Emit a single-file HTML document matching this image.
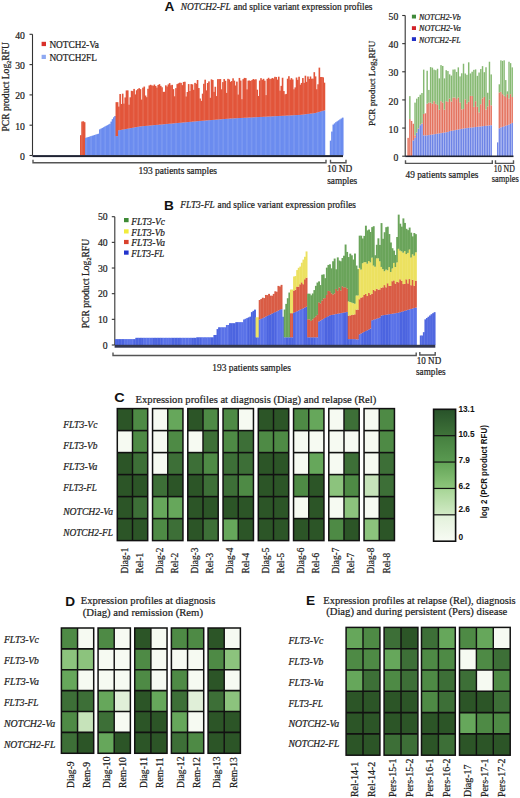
<!DOCTYPE html>
<html><head><meta charset="utf-8"><style>
html,body{margin:0;padding:0;background:#fff;}
body{width:520px;height:798px;overflow:hidden;}
svg{display:block;}
</style></head><body>
<svg width="520" height="798" viewBox="0 0 520 798">
<rect x="0" y="0" width="520" height="798" fill="#fff"/>
<text transform="translate(164.60,10.70) scale(1.1,1)" text-anchor="start" style="font-family:'Liberation Sans', sans-serif;font-size:12.4px;font-weight:bold;" fill="#111">A</text>
<text x="180.80" y="10.20" text-anchor="start" style="font-family:'Liberation Serif', serif;font-size:10.2px;font-style:italic;" fill="#222" textLength="50.00" lengthAdjust="spacingAndGlyphs" stroke="#222" stroke-width="0.22">NOTCH2-FL</text>
<text x="233.50" y="10.20" text-anchor="start" style="font-family:'Liberation Serif', serif;font-size:10.2px;" fill="#222" textLength="139.00" lengthAdjust="spacingAndGlyphs" stroke="#222" stroke-width="0.22">and splice variant expression profiles</text>
<rect x="80.00" y="135.20" width="1.62" height="20.30" fill="#e2553a"/>
<rect x="81.27" y="121.56" width="1.62" height="33.94" fill="#e2553a"/>
<rect x="82.54" y="121.26" width="1.62" height="34.24" fill="#e2553a"/>
<rect x="83.81" y="122.17" width="1.62" height="33.33" fill="#e2553a"/>
<rect x="85.08" y="137.84" width="1.62" height="17.66" fill="#6b8cef"/>
<rect x="86.34" y="137.42" width="1.62" height="18.08" fill="#6b8cef"/>
<rect x="87.61" y="137.01" width="1.62" height="18.49" fill="#6b8cef"/>
<rect x="88.88" y="136.60" width="1.62" height="18.90" fill="#6b8cef"/>
<rect x="90.15" y="136.19" width="1.62" height="19.31" fill="#6b8cef"/>
<rect x="91.42" y="135.78" width="1.62" height="19.72" fill="#6b8cef"/>
<rect x="92.69" y="135.36" width="1.62" height="20.14" fill="#6b8cef"/>
<rect x="93.96" y="134.95" width="1.62" height="20.55" fill="#6b8cef"/>
<rect x="95.23" y="134.54" width="1.62" height="20.96" fill="#6b8cef"/>
<rect x="96.50" y="134.13" width="1.62" height="21.37" fill="#6b8cef"/>
<rect x="97.76" y="133.72" width="1.62" height="21.78" fill="#6b8cef"/>
<rect x="99.03" y="129.35" width="1.62" height="26.15" fill="#6b8cef"/>
<rect x="100.30" y="128.65" width="1.62" height="26.85" fill="#6b8cef"/>
<rect x="101.57" y="127.96" width="1.62" height="27.54" fill="#6b8cef"/>
<rect x="102.84" y="127.26" width="1.62" height="28.24" fill="#6b8cef"/>
<rect x="104.11" y="126.57" width="1.62" height="28.93" fill="#6b8cef"/>
<rect x="105.38" y="125.87" width="1.62" height="29.63" fill="#6b8cef"/>
<rect x="106.65" y="125.18" width="1.62" height="30.32" fill="#6b8cef"/>
<rect x="107.92" y="124.48" width="1.62" height="31.02" fill="#6b8cef"/>
<rect x="109.18" y="123.78" width="1.62" height="31.72" fill="#6b8cef"/>
<rect x="110.45" y="121.60" width="1.62" height="33.90" fill="#6b8cef"/>
<rect x="111.72" y="119.16" width="1.62" height="36.34" fill="#6b8cef"/>
<rect x="112.99" y="117.30" width="1.62" height="38.20" fill="#6b8cef"/>
<rect x="114.26" y="116.01" width="1.62" height="39.49" fill="#6b8cef"/>
<rect x="115.53" y="136.11" width="1.62" height="19.39" fill="#6b8cef"/>
<rect x="115.53" y="102.17" width="1.62" height="33.94" fill="#e2553a"/>
<rect x="116.80" y="136.11" width="1.62" height="19.39" fill="#6b8cef"/>
<rect x="116.80" y="102.17" width="1.62" height="33.94" fill="#e2553a"/>
<rect x="118.07" y="130.31" width="1.62" height="25.19" fill="#6b8cef"/>
<rect x="118.07" y="106.60" width="1.62" height="23.71" fill="#e2553a"/>
<rect x="119.34" y="130.08" width="1.62" height="25.42" fill="#6b8cef"/>
<rect x="119.34" y="94.01" width="1.62" height="36.07" fill="#e2553a"/>
<rect x="120.61" y="129.85" width="1.62" height="25.65" fill="#6b8cef"/>
<rect x="120.61" y="103.98" width="1.62" height="25.87" fill="#e2553a"/>
<rect x="121.87" y="129.62" width="1.62" height="25.88" fill="#6b8cef"/>
<rect x="121.87" y="93.67" width="1.62" height="35.95" fill="#e2553a"/>
<rect x="123.14" y="129.38" width="1.62" height="26.12" fill="#6b8cef"/>
<rect x="123.14" y="103.62" width="1.62" height="25.77" fill="#e2553a"/>
<rect x="124.41" y="129.15" width="1.62" height="26.35" fill="#6b8cef"/>
<rect x="124.41" y="97.42" width="1.62" height="31.73" fill="#e2553a"/>
<rect x="125.68" y="128.92" width="1.62" height="26.58" fill="#6b8cef"/>
<rect x="125.68" y="90.43" width="1.62" height="38.49" fill="#e2553a"/>
<rect x="126.95" y="128.69" width="1.62" height="26.81" fill="#6b8cef"/>
<rect x="126.95" y="90.40" width="1.62" height="38.29" fill="#e2553a"/>
<rect x="128.22" y="128.45" width="1.62" height="27.05" fill="#6b8cef"/>
<rect x="128.22" y="104.71" width="1.62" height="23.74" fill="#e2553a"/>
<rect x="129.49" y="128.22" width="1.62" height="27.28" fill="#6b8cef"/>
<rect x="129.49" y="97.28" width="1.62" height="30.94" fill="#e2553a"/>
<rect x="130.76" y="127.99" width="1.62" height="27.51" fill="#6b8cef"/>
<rect x="130.76" y="90.81" width="1.62" height="37.18" fill="#e2553a"/>
<rect x="132.03" y="127.76" width="1.62" height="27.74" fill="#6b8cef"/>
<rect x="132.03" y="91.11" width="1.62" height="36.65" fill="#e2553a"/>
<rect x="133.29" y="127.52" width="1.62" height="27.98" fill="#6b8cef"/>
<rect x="133.29" y="88.92" width="1.62" height="38.61" fill="#e2553a"/>
<rect x="134.56" y="127.29" width="1.62" height="28.21" fill="#6b8cef"/>
<rect x="134.56" y="94.42" width="1.62" height="32.87" fill="#e2553a"/>
<rect x="135.83" y="127.06" width="1.62" height="28.44" fill="#6b8cef"/>
<rect x="135.83" y="90.27" width="1.62" height="36.79" fill="#e2553a"/>
<rect x="137.10" y="126.83" width="1.62" height="28.67" fill="#6b8cef"/>
<rect x="137.10" y="89.08" width="1.62" height="37.74" fill="#e2553a"/>
<rect x="138.37" y="126.59" width="1.62" height="28.91" fill="#6b8cef"/>
<rect x="138.37" y="88.17" width="1.62" height="38.43" fill="#e2553a"/>
<rect x="139.64" y="126.39" width="1.62" height="29.11" fill="#6b8cef"/>
<rect x="139.64" y="89.14" width="1.62" height="37.25" fill="#e2553a"/>
<rect x="140.91" y="126.27" width="1.62" height="29.23" fill="#6b8cef"/>
<rect x="140.91" y="99.58" width="1.62" height="26.70" fill="#e2553a"/>
<rect x="142.18" y="126.16" width="1.62" height="29.34" fill="#6b8cef"/>
<rect x="142.18" y="87.69" width="1.62" height="38.46" fill="#e2553a"/>
<rect x="143.45" y="126.04" width="1.62" height="29.46" fill="#6b8cef"/>
<rect x="143.45" y="86.58" width="1.62" height="39.46" fill="#e2553a"/>
<rect x="144.71" y="125.93" width="1.62" height="29.57" fill="#6b8cef"/>
<rect x="144.71" y="95.52" width="1.62" height="30.41" fill="#e2553a"/>
<rect x="145.98" y="125.81" width="1.62" height="29.69" fill="#6b8cef"/>
<rect x="145.98" y="97.19" width="1.62" height="28.62" fill="#e2553a"/>
<rect x="147.25" y="125.70" width="1.62" height="29.80" fill="#6b8cef"/>
<rect x="147.25" y="88.78" width="1.62" height="36.92" fill="#e2553a"/>
<rect x="148.52" y="125.58" width="1.62" height="29.92" fill="#6b8cef"/>
<rect x="148.52" y="85.46" width="1.62" height="40.12" fill="#e2553a"/>
<rect x="149.79" y="125.46" width="1.62" height="30.04" fill="#6b8cef"/>
<rect x="149.79" y="84.78" width="1.62" height="40.68" fill="#e2553a"/>
<rect x="151.06" y="125.35" width="1.62" height="30.15" fill="#6b8cef"/>
<rect x="151.06" y="85.42" width="1.62" height="39.93" fill="#e2553a"/>
<rect x="152.33" y="125.23" width="1.62" height="30.27" fill="#6b8cef"/>
<rect x="152.33" y="85.79" width="1.62" height="39.45" fill="#e2553a"/>
<rect x="153.60" y="125.12" width="1.62" height="30.38" fill="#6b8cef"/>
<rect x="153.60" y="84.56" width="1.62" height="40.56" fill="#e2553a"/>
<rect x="154.87" y="125.00" width="1.62" height="30.50" fill="#6b8cef"/>
<rect x="154.87" y="85.98" width="1.62" height="39.02" fill="#e2553a"/>
<rect x="156.13" y="124.89" width="1.62" height="30.61" fill="#6b8cef"/>
<rect x="156.13" y="87.61" width="1.62" height="37.27" fill="#e2553a"/>
<rect x="157.40" y="124.77" width="1.62" height="30.73" fill="#6b8cef"/>
<rect x="157.40" y="85.00" width="1.62" height="39.77" fill="#e2553a"/>
<rect x="158.67" y="124.66" width="1.62" height="30.84" fill="#6b8cef"/>
<rect x="158.67" y="84.13" width="1.62" height="40.52" fill="#e2553a"/>
<rect x="159.94" y="124.54" width="1.62" height="30.96" fill="#6b8cef"/>
<rect x="159.94" y="85.86" width="1.62" height="38.68" fill="#e2553a"/>
<rect x="161.21" y="124.43" width="1.62" height="31.07" fill="#6b8cef"/>
<rect x="161.21" y="87.27" width="1.62" height="37.15" fill="#e2553a"/>
<rect x="162.48" y="124.31" width="1.62" height="31.19" fill="#6b8cef"/>
<rect x="162.48" y="91.88" width="1.62" height="32.43" fill="#e2553a"/>
<rect x="163.75" y="124.20" width="1.62" height="31.30" fill="#6b8cef"/>
<rect x="163.75" y="91.78" width="1.62" height="32.41" fill="#e2553a"/>
<rect x="165.02" y="124.08" width="1.62" height="31.42" fill="#6b8cef"/>
<rect x="165.02" y="85.34" width="1.62" height="38.74" fill="#e2553a"/>
<rect x="166.29" y="123.96" width="1.62" height="31.54" fill="#6b8cef"/>
<rect x="166.29" y="86.53" width="1.62" height="37.44" fill="#e2553a"/>
<rect x="167.55" y="123.85" width="1.62" height="31.65" fill="#6b8cef"/>
<rect x="167.55" y="84.42" width="1.62" height="39.43" fill="#e2553a"/>
<rect x="168.82" y="123.73" width="1.62" height="31.77" fill="#6b8cef"/>
<rect x="168.82" y="83.15" width="1.62" height="40.59" fill="#e2553a"/>
<rect x="170.09" y="123.62" width="1.62" height="31.88" fill="#6b8cef"/>
<rect x="170.09" y="85.31" width="1.62" height="38.30" fill="#e2553a"/>
<rect x="171.36" y="123.50" width="1.62" height="32.00" fill="#6b8cef"/>
<rect x="171.36" y="84.85" width="1.62" height="38.65" fill="#e2553a"/>
<rect x="172.63" y="123.39" width="1.62" height="32.11" fill="#6b8cef"/>
<rect x="172.63" y="89.13" width="1.62" height="34.26" fill="#e2553a"/>
<rect x="173.90" y="123.27" width="1.62" height="32.23" fill="#6b8cef"/>
<rect x="173.90" y="96.29" width="1.62" height="26.98" fill="#e2553a"/>
<rect x="175.17" y="123.16" width="1.62" height="32.34" fill="#6b8cef"/>
<rect x="175.17" y="88.10" width="1.62" height="35.06" fill="#e2553a"/>
<rect x="176.44" y="123.04" width="1.62" height="32.46" fill="#6b8cef"/>
<rect x="176.44" y="84.09" width="1.62" height="38.95" fill="#e2553a"/>
<rect x="177.71" y="122.93" width="1.62" height="32.57" fill="#6b8cef"/>
<rect x="177.71" y="83.34" width="1.62" height="39.58" fill="#e2553a"/>
<rect x="178.98" y="122.81" width="1.62" height="32.69" fill="#6b8cef"/>
<rect x="178.98" y="82.69" width="1.62" height="40.12" fill="#e2553a"/>
<rect x="180.24" y="122.70" width="1.62" height="32.80" fill="#6b8cef"/>
<rect x="180.24" y="82.88" width="1.62" height="39.82" fill="#e2553a"/>
<rect x="181.51" y="122.58" width="1.62" height="32.92" fill="#6b8cef"/>
<rect x="181.51" y="85.14" width="1.62" height="37.44" fill="#e2553a"/>
<rect x="182.78" y="122.47" width="1.62" height="33.03" fill="#6b8cef"/>
<rect x="182.78" y="81.94" width="1.62" height="40.53" fill="#e2553a"/>
<rect x="184.05" y="122.35" width="1.62" height="33.15" fill="#6b8cef"/>
<rect x="184.05" y="81.74" width="1.62" height="40.61" fill="#e2553a"/>
<rect x="185.32" y="122.23" width="1.62" height="33.27" fill="#6b8cef"/>
<rect x="185.32" y="96.50" width="1.62" height="25.74" fill="#e2553a"/>
<rect x="186.59" y="122.12" width="1.62" height="33.38" fill="#6b8cef"/>
<rect x="186.59" y="92.00" width="1.62" height="30.12" fill="#e2553a"/>
<rect x="187.86" y="122.00" width="1.62" height="33.50" fill="#6b8cef"/>
<rect x="187.86" y="84.06" width="1.62" height="37.95" fill="#e2553a"/>
<rect x="189.13" y="121.89" width="1.62" height="33.61" fill="#6b8cef"/>
<rect x="189.13" y="91.01" width="1.62" height="30.88" fill="#e2553a"/>
<rect x="190.40" y="121.77" width="1.62" height="33.73" fill="#6b8cef"/>
<rect x="190.40" y="84.12" width="1.62" height="37.66" fill="#e2553a"/>
<rect x="191.66" y="121.66" width="1.62" height="33.84" fill="#6b8cef"/>
<rect x="191.66" y="84.37" width="1.62" height="37.28" fill="#e2553a"/>
<rect x="192.93" y="121.54" width="1.62" height="33.96" fill="#6b8cef"/>
<rect x="192.93" y="89.80" width="1.62" height="31.75" fill="#e2553a"/>
<rect x="194.20" y="121.43" width="1.62" height="34.07" fill="#6b8cef"/>
<rect x="194.20" y="82.88" width="1.62" height="38.55" fill="#e2553a"/>
<rect x="195.47" y="121.31" width="1.62" height="34.19" fill="#6b8cef"/>
<rect x="195.47" y="83.77" width="1.62" height="37.54" fill="#e2553a"/>
<rect x="196.74" y="121.20" width="1.62" height="34.30" fill="#6b8cef"/>
<rect x="196.74" y="80.01" width="1.62" height="41.18" fill="#e2553a"/>
<rect x="198.01" y="121.08" width="1.62" height="34.42" fill="#6b8cef"/>
<rect x="198.01" y="88.05" width="1.62" height="33.03" fill="#e2553a"/>
<rect x="199.28" y="120.97" width="1.62" height="34.53" fill="#6b8cef"/>
<rect x="199.28" y="98.49" width="1.62" height="22.48" fill="#e2553a"/>
<rect x="200.55" y="120.86" width="1.62" height="34.64" fill="#6b8cef"/>
<rect x="200.55" y="100.86" width="1.62" height="20.00" fill="#e2553a"/>
<rect x="201.82" y="120.76" width="1.62" height="34.74" fill="#6b8cef"/>
<rect x="201.82" y="93.68" width="1.62" height="27.08" fill="#e2553a"/>
<rect x="203.08" y="120.66" width="1.62" height="34.84" fill="#6b8cef"/>
<rect x="203.08" y="83.79" width="1.62" height="36.87" fill="#e2553a"/>
<rect x="204.35" y="120.55" width="1.62" height="34.95" fill="#6b8cef"/>
<rect x="204.35" y="79.69" width="1.62" height="40.86" fill="#e2553a"/>
<rect x="205.62" y="120.45" width="1.62" height="35.05" fill="#6b8cef"/>
<rect x="205.62" y="90.37" width="1.62" height="30.08" fill="#e2553a"/>
<rect x="206.89" y="120.35" width="1.62" height="35.15" fill="#6b8cef"/>
<rect x="206.89" y="83.00" width="1.62" height="37.35" fill="#e2553a"/>
<rect x="208.16" y="120.25" width="1.62" height="35.25" fill="#6b8cef"/>
<rect x="208.16" y="81.39" width="1.62" height="38.86" fill="#e2553a"/>
<rect x="209.43" y="120.14" width="1.62" height="35.36" fill="#6b8cef"/>
<rect x="209.43" y="97.80" width="1.62" height="22.35" fill="#e2553a"/>
<rect x="210.70" y="120.04" width="1.62" height="35.46" fill="#6b8cef"/>
<rect x="210.70" y="79.34" width="1.62" height="40.70" fill="#e2553a"/>
<rect x="211.97" y="119.94" width="1.62" height="35.56" fill="#6b8cef"/>
<rect x="211.97" y="80.04" width="1.62" height="39.90" fill="#e2553a"/>
<rect x="213.24" y="119.84" width="1.62" height="35.66" fill="#6b8cef"/>
<rect x="213.24" y="91.86" width="1.62" height="27.98" fill="#e2553a"/>
<rect x="214.50" y="119.73" width="1.62" height="35.77" fill="#6b8cef"/>
<rect x="214.50" y="86.75" width="1.62" height="32.99" fill="#e2553a"/>
<rect x="215.77" y="119.63" width="1.62" height="35.87" fill="#6b8cef"/>
<rect x="215.77" y="96.07" width="1.62" height="23.57" fill="#e2553a"/>
<rect x="217.04" y="119.53" width="1.62" height="35.97" fill="#6b8cef"/>
<rect x="217.04" y="79.14" width="1.62" height="40.39" fill="#e2553a"/>
<rect x="218.31" y="119.43" width="1.62" height="36.07" fill="#6b8cef"/>
<rect x="218.31" y="79.16" width="1.62" height="40.27" fill="#e2553a"/>
<rect x="219.58" y="119.32" width="1.62" height="36.18" fill="#6b8cef"/>
<rect x="219.58" y="79.02" width="1.62" height="40.30" fill="#e2553a"/>
<rect x="220.85" y="119.22" width="1.62" height="36.28" fill="#6b8cef"/>
<rect x="220.85" y="89.30" width="1.62" height="29.92" fill="#e2553a"/>
<rect x="222.12" y="119.12" width="1.62" height="36.38" fill="#6b8cef"/>
<rect x="222.12" y="82.08" width="1.62" height="37.04" fill="#e2553a"/>
<rect x="223.39" y="119.02" width="1.62" height="36.48" fill="#6b8cef"/>
<rect x="223.39" y="79.06" width="1.62" height="39.96" fill="#e2553a"/>
<rect x="224.66" y="118.91" width="1.62" height="36.59" fill="#6b8cef"/>
<rect x="224.66" y="80.78" width="1.62" height="38.13" fill="#e2553a"/>
<rect x="225.92" y="118.81" width="1.62" height="36.69" fill="#6b8cef"/>
<rect x="225.92" y="92.91" width="1.62" height="25.90" fill="#e2553a"/>
<rect x="227.19" y="118.71" width="1.62" height="36.79" fill="#6b8cef"/>
<rect x="227.19" y="78.83" width="1.62" height="39.88" fill="#e2553a"/>
<rect x="228.46" y="118.61" width="1.62" height="36.89" fill="#6b8cef"/>
<rect x="228.46" y="79.44" width="1.62" height="39.17" fill="#e2553a"/>
<rect x="229.73" y="118.51" width="1.62" height="36.99" fill="#6b8cef"/>
<rect x="229.73" y="81.80" width="1.62" height="36.71" fill="#e2553a"/>
<rect x="231.00" y="118.45" width="1.62" height="37.05" fill="#6b8cef"/>
<rect x="231.00" y="81.08" width="1.62" height="37.36" fill="#e2553a"/>
<rect x="232.27" y="118.38" width="1.62" height="37.12" fill="#6b8cef"/>
<rect x="232.27" y="78.31" width="1.62" height="40.07" fill="#e2553a"/>
<rect x="233.54" y="118.32" width="1.62" height="37.18" fill="#6b8cef"/>
<rect x="233.54" y="80.66" width="1.62" height="37.65" fill="#e2553a"/>
<rect x="234.81" y="118.25" width="1.62" height="37.25" fill="#6b8cef"/>
<rect x="234.81" y="85.51" width="1.62" height="32.75" fill="#e2553a"/>
<rect x="236.08" y="118.19" width="1.62" height="37.31" fill="#6b8cef"/>
<rect x="236.08" y="81.60" width="1.62" height="36.59" fill="#e2553a"/>
<rect x="237.35" y="118.12" width="1.62" height="37.38" fill="#6b8cef"/>
<rect x="237.35" y="94.57" width="1.62" height="23.55" fill="#e2553a"/>
<rect x="238.61" y="118.05" width="1.62" height="37.45" fill="#6b8cef"/>
<rect x="238.61" y="77.95" width="1.62" height="40.10" fill="#e2553a"/>
<rect x="239.88" y="117.99" width="1.62" height="37.51" fill="#6b8cef"/>
<rect x="239.88" y="80.56" width="1.62" height="37.43" fill="#e2553a"/>
<rect x="241.15" y="117.92" width="1.62" height="37.58" fill="#6b8cef"/>
<rect x="241.15" y="99.21" width="1.62" height="18.71" fill="#e2553a"/>
<rect x="242.42" y="117.86" width="1.62" height="37.64" fill="#6b8cef"/>
<rect x="242.42" y="79.16" width="1.62" height="38.69" fill="#e2553a"/>
<rect x="243.69" y="117.79" width="1.62" height="37.71" fill="#6b8cef"/>
<rect x="243.69" y="77.89" width="1.62" height="39.90" fill="#e2553a"/>
<rect x="244.96" y="117.72" width="1.62" height="37.78" fill="#6b8cef"/>
<rect x="244.96" y="78.09" width="1.62" height="39.63" fill="#e2553a"/>
<rect x="246.23" y="117.66" width="1.62" height="37.84" fill="#6b8cef"/>
<rect x="246.23" y="89.37" width="1.62" height="28.29" fill="#e2553a"/>
<rect x="247.50" y="117.59" width="1.62" height="37.91" fill="#6b8cef"/>
<rect x="247.50" y="80.64" width="1.62" height="36.95" fill="#e2553a"/>
<rect x="248.77" y="117.53" width="1.62" height="37.97" fill="#6b8cef"/>
<rect x="248.77" y="80.50" width="1.62" height="37.03" fill="#e2553a"/>
<rect x="250.03" y="117.46" width="1.62" height="38.04" fill="#6b8cef"/>
<rect x="250.03" y="80.99" width="1.62" height="36.47" fill="#e2553a"/>
<rect x="251.30" y="117.39" width="1.62" height="38.11" fill="#6b8cef"/>
<rect x="251.30" y="80.01" width="1.62" height="37.39" fill="#e2553a"/>
<rect x="252.57" y="117.33" width="1.62" height="38.17" fill="#6b8cef"/>
<rect x="252.57" y="79.00" width="1.62" height="38.33" fill="#e2553a"/>
<rect x="253.84" y="117.26" width="1.62" height="38.24" fill="#6b8cef"/>
<rect x="253.84" y="79.65" width="1.62" height="37.61" fill="#e2553a"/>
<rect x="255.11" y="117.20" width="1.62" height="38.30" fill="#6b8cef"/>
<rect x="255.11" y="79.27" width="1.62" height="37.93" fill="#e2553a"/>
<rect x="256.38" y="117.13" width="1.62" height="38.37" fill="#6b8cef"/>
<rect x="256.38" y="89.68" width="1.62" height="27.45" fill="#e2553a"/>
<rect x="257.65" y="117.06" width="1.62" height="38.44" fill="#6b8cef"/>
<rect x="257.65" y="95.98" width="1.62" height="21.08" fill="#e2553a"/>
<rect x="258.92" y="117.00" width="1.62" height="38.50" fill="#6b8cef"/>
<rect x="258.92" y="80.55" width="1.62" height="36.45" fill="#e2553a"/>
<rect x="260.19" y="116.93" width="1.62" height="38.57" fill="#6b8cef"/>
<rect x="260.19" y="78.16" width="1.62" height="38.77" fill="#e2553a"/>
<rect x="261.45" y="116.87" width="1.62" height="38.63" fill="#6b8cef"/>
<rect x="261.45" y="79.82" width="1.62" height="37.05" fill="#e2553a"/>
<rect x="262.72" y="116.80" width="1.62" height="38.70" fill="#6b8cef"/>
<rect x="262.72" y="78.81" width="1.62" height="37.99" fill="#e2553a"/>
<rect x="263.99" y="116.74" width="1.62" height="38.76" fill="#6b8cef"/>
<rect x="263.99" y="80.67" width="1.62" height="36.06" fill="#e2553a"/>
<rect x="265.26" y="116.67" width="1.62" height="38.83" fill="#6b8cef"/>
<rect x="265.26" y="95.11" width="1.62" height="21.56" fill="#e2553a"/>
<rect x="266.53" y="116.60" width="1.62" height="38.90" fill="#6b8cef"/>
<rect x="266.53" y="78.89" width="1.62" height="37.71" fill="#e2553a"/>
<rect x="267.80" y="116.54" width="1.62" height="38.96" fill="#6b8cef"/>
<rect x="267.80" y="77.79" width="1.62" height="38.75" fill="#e2553a"/>
<rect x="269.07" y="116.47" width="1.62" height="39.03" fill="#6b8cef"/>
<rect x="269.07" y="79.09" width="1.62" height="37.38" fill="#e2553a"/>
<rect x="270.34" y="116.41" width="1.62" height="39.09" fill="#6b8cef"/>
<rect x="270.34" y="78.79" width="1.62" height="37.62" fill="#e2553a"/>
<rect x="271.61" y="116.34" width="1.62" height="39.16" fill="#6b8cef"/>
<rect x="271.61" y="77.96" width="1.62" height="38.38" fill="#e2553a"/>
<rect x="272.87" y="116.27" width="1.62" height="39.23" fill="#6b8cef"/>
<rect x="272.87" y="78.59" width="1.62" height="37.68" fill="#e2553a"/>
<rect x="274.14" y="116.21" width="1.62" height="39.29" fill="#6b8cef"/>
<rect x="274.14" y="76.82" width="1.62" height="39.38" fill="#e2553a"/>
<rect x="275.41" y="116.14" width="1.62" height="39.36" fill="#6b8cef"/>
<rect x="275.41" y="77.06" width="1.62" height="39.08" fill="#e2553a"/>
<rect x="276.68" y="116.08" width="1.62" height="39.42" fill="#6b8cef"/>
<rect x="276.68" y="79.64" width="1.62" height="36.44" fill="#e2553a"/>
<rect x="277.95" y="116.01" width="1.62" height="39.49" fill="#6b8cef"/>
<rect x="277.95" y="76.70" width="1.62" height="39.31" fill="#e2553a"/>
<rect x="279.22" y="115.94" width="1.62" height="39.56" fill="#6b8cef"/>
<rect x="279.22" y="90.65" width="1.62" height="25.29" fill="#e2553a"/>
<rect x="280.49" y="115.88" width="1.62" height="39.62" fill="#6b8cef"/>
<rect x="280.49" y="85.86" width="1.62" height="30.02" fill="#e2553a"/>
<rect x="281.76" y="115.81" width="1.62" height="39.69" fill="#6b8cef"/>
<rect x="281.76" y="77.75" width="1.62" height="38.07" fill="#e2553a"/>
<rect x="283.03" y="115.75" width="1.62" height="39.75" fill="#6b8cef"/>
<rect x="283.03" y="91.05" width="1.62" height="24.69" fill="#e2553a"/>
<rect x="284.29" y="115.68" width="1.62" height="39.82" fill="#6b8cef"/>
<rect x="284.29" y="94.29" width="1.62" height="21.39" fill="#e2553a"/>
<rect x="285.56" y="115.61" width="1.62" height="39.89" fill="#6b8cef"/>
<rect x="285.56" y="93.90" width="1.62" height="21.72" fill="#e2553a"/>
<rect x="286.83" y="115.55" width="1.62" height="39.95" fill="#6b8cef"/>
<rect x="286.83" y="78.74" width="1.62" height="36.81" fill="#e2553a"/>
<rect x="288.10" y="115.48" width="1.62" height="40.02" fill="#6b8cef"/>
<rect x="288.10" y="76.20" width="1.62" height="39.29" fill="#e2553a"/>
<rect x="289.37" y="115.42" width="1.62" height="40.08" fill="#6b8cef"/>
<rect x="289.37" y="79.67" width="1.62" height="35.75" fill="#e2553a"/>
<rect x="290.64" y="115.35" width="1.62" height="40.15" fill="#6b8cef"/>
<rect x="290.64" y="78.13" width="1.62" height="37.22" fill="#e2553a"/>
<rect x="291.91" y="115.29" width="1.62" height="40.21" fill="#6b8cef"/>
<rect x="291.91" y="79.45" width="1.62" height="35.84" fill="#e2553a"/>
<rect x="293.18" y="115.22" width="1.62" height="40.28" fill="#6b8cef"/>
<rect x="293.18" y="89.28" width="1.62" height="25.94" fill="#e2553a"/>
<rect x="294.45" y="115.15" width="1.62" height="40.35" fill="#6b8cef"/>
<rect x="294.45" y="87.40" width="1.62" height="27.75" fill="#e2553a"/>
<rect x="295.72" y="115.09" width="1.62" height="40.41" fill="#6b8cef"/>
<rect x="295.72" y="77.52" width="1.62" height="37.57" fill="#e2553a"/>
<rect x="296.98" y="115.02" width="1.62" height="40.48" fill="#6b8cef"/>
<rect x="296.98" y="79.85" width="1.62" height="35.17" fill="#e2553a"/>
<rect x="298.25" y="114.96" width="1.62" height="40.54" fill="#6b8cef"/>
<rect x="298.25" y="76.74" width="1.62" height="38.21" fill="#e2553a"/>
<rect x="299.52" y="114.88" width="1.62" height="40.62" fill="#6b8cef"/>
<rect x="299.52" y="84.68" width="1.62" height="30.20" fill="#e2553a"/>
<rect x="300.79" y="114.73" width="1.62" height="40.77" fill="#6b8cef"/>
<rect x="300.79" y="82.94" width="1.62" height="31.79" fill="#e2553a"/>
<rect x="302.06" y="114.57" width="1.62" height="40.93" fill="#6b8cef"/>
<rect x="302.06" y="78.03" width="1.62" height="36.54" fill="#e2553a"/>
<rect x="303.33" y="114.42" width="1.62" height="41.08" fill="#6b8cef"/>
<rect x="303.33" y="82.82" width="1.62" height="31.59" fill="#e2553a"/>
<rect x="304.60" y="114.26" width="1.62" height="41.24" fill="#6b8cef"/>
<rect x="304.60" y="75.71" width="1.62" height="38.55" fill="#e2553a"/>
<rect x="305.87" y="114.11" width="1.62" height="41.39" fill="#6b8cef"/>
<rect x="305.87" y="81.86" width="1.62" height="32.25" fill="#e2553a"/>
<rect x="307.14" y="113.96" width="1.62" height="41.54" fill="#6b8cef"/>
<rect x="307.14" y="76.47" width="1.62" height="37.48" fill="#e2553a"/>
<rect x="308.40" y="113.80" width="1.62" height="41.70" fill="#6b8cef"/>
<rect x="308.40" y="78.98" width="1.62" height="34.82" fill="#e2553a"/>
<rect x="309.67" y="113.65" width="1.62" height="41.85" fill="#6b8cef"/>
<rect x="309.67" y="76.49" width="1.62" height="37.16" fill="#e2553a"/>
<rect x="310.94" y="113.49" width="1.62" height="42.01" fill="#6b8cef"/>
<rect x="310.94" y="78.72" width="1.62" height="34.78" fill="#e2553a"/>
<rect x="312.21" y="113.34" width="1.62" height="42.16" fill="#6b8cef"/>
<rect x="312.21" y="78.68" width="1.62" height="34.66" fill="#e2553a"/>
<rect x="313.48" y="113.19" width="1.62" height="42.31" fill="#6b8cef"/>
<rect x="313.48" y="72.18" width="1.62" height="41.01" fill="#e2553a"/>
<rect x="314.75" y="112.97" width="1.62" height="42.53" fill="#6b8cef"/>
<rect x="314.75" y="76.40" width="1.62" height="36.57" fill="#e2553a"/>
<rect x="316.02" y="112.60" width="1.62" height="42.90" fill="#6b8cef"/>
<rect x="316.02" y="89.23" width="1.62" height="23.37" fill="#e2553a"/>
<rect x="317.29" y="112.24" width="1.62" height="43.26" fill="#6b8cef"/>
<rect x="317.29" y="84.27" width="1.62" height="27.97" fill="#e2553a"/>
<rect x="318.56" y="111.87" width="1.62" height="43.63" fill="#6b8cef"/>
<rect x="318.56" y="67.63" width="1.62" height="44.24" fill="#e2553a"/>
<rect x="319.82" y="111.50" width="1.62" height="44.00" fill="#6b8cef"/>
<rect x="319.82" y="77.02" width="1.62" height="34.48" fill="#e2553a"/>
<rect x="321.09" y="111.14" width="1.62" height="44.36" fill="#6b8cef"/>
<rect x="321.09" y="76.98" width="1.62" height="34.16" fill="#e2553a"/>
<rect x="322.36" y="110.77" width="1.62" height="44.73" fill="#6b8cef"/>
<rect x="322.36" y="77.35" width="1.62" height="33.43" fill="#e2553a"/>
<rect x="323.63" y="110.41" width="1.62" height="45.09" fill="#6b8cef"/>
<rect x="323.63" y="82.67" width="1.62" height="27.73" fill="#e2553a"/>
<rect x="329.80" y="140.65" width="1.69" height="14.85" fill="#6b8cef"/>
<rect x="331.14" y="131.56" width="1.69" height="23.94" fill="#6b8cef"/>
<rect x="332.48" y="124.59" width="1.69" height="30.91" fill="#6b8cef"/>
<rect x="333.82" y="123.38" width="1.69" height="32.12" fill="#6b8cef"/>
<rect x="335.16" y="122.17" width="1.69" height="33.33" fill="#6b8cef"/>
<rect x="336.50" y="121.26" width="1.69" height="34.24" fill="#6b8cef"/>
<rect x="337.84" y="120.35" width="1.69" height="35.15" fill="#6b8cef"/>
<rect x="339.18" y="119.44" width="1.69" height="36.06" fill="#6b8cef"/>
<rect x="340.52" y="118.53" width="1.69" height="36.97" fill="#6b8cef"/>
<rect x="341.86" y="117.62" width="1.69" height="37.88" fill="#6b8cef"/>
<line x1="32.50" y1="34.30" x2="32.50" y2="155.50" stroke="#333" stroke-width="1.1"/>
<line x1="29.50" y1="155.50" x2="32.50" y2="155.50" stroke="#333" stroke-width="1.1"/>
<text x="24.90" y="160.00" text-anchor="end" style="font-family:'Liberation Serif', serif;font-size:9.7px;" fill="#222" stroke="#222" stroke-width="0.22">0</text>
<line x1="29.50" y1="125.20" x2="32.50" y2="125.20" stroke="#333" stroke-width="1.1"/>
<text x="24.90" y="129.70" text-anchor="end" style="font-family:'Liberation Serif', serif;font-size:9.7px;" fill="#222" stroke="#222" stroke-width="0.22">10</text>
<line x1="29.50" y1="94.90" x2="32.50" y2="94.90" stroke="#333" stroke-width="1.1"/>
<text x="24.90" y="99.40" text-anchor="end" style="font-family:'Liberation Serif', serif;font-size:9.7px;" fill="#222" stroke="#222" stroke-width="0.22">20</text>
<line x1="29.50" y1="64.60" x2="32.50" y2="64.60" stroke="#333" stroke-width="1.1"/>
<text x="24.90" y="69.10" text-anchor="end" style="font-family:'Liberation Serif', serif;font-size:9.7px;" fill="#222" stroke="#222" stroke-width="0.22">30</text>
<line x1="29.50" y1="34.30" x2="32.50" y2="34.30" stroke="#333" stroke-width="1.1"/>
<text x="24.90" y="38.80" text-anchor="end" style="font-family:'Liberation Serif', serif;font-size:9.7px;" fill="#222" stroke="#222" stroke-width="0.22">40</text>
<rect x="32.50" y="155.10" width="310.50" height="2.00" fill="#1f2333"/>
<path d="M33.00,159.70 L33.00,162.70 L326.00,162.70 L326.00,159.70" fill="none" stroke="#555" stroke-width="1.4"/>
<path d="M330.50,159.70 L330.50,162.70 L346.00,162.70 L346.00,159.70" fill="none" stroke="#555" stroke-width="1.4"/>
<text x="177.80" y="174.20" text-anchor="middle" style="font-family:'Liberation Serif', serif;font-size:10.2px;" fill="#222" textLength="78.50" lengthAdjust="spacingAndGlyphs" stroke="#222" stroke-width="0.22">193 patients samples</text>
<text x="339.60" y="172.20" text-anchor="middle" style="font-family:'Liberation Serif', serif;font-size:10.2px;" fill="#222" textLength="25.00" lengthAdjust="spacingAndGlyphs" stroke="#222" stroke-width="0.22">10 ND</text>
<text x="342.20" y="183.60" text-anchor="middle" style="font-family:'Liberation Serif', serif;font-size:10.2px;" fill="#222" textLength="30.00" lengthAdjust="spacingAndGlyphs" stroke="#222" stroke-width="0.22">samples</text>
<rect x="41.60" y="41.80" width="4.40" height="4.30" fill="#d9302a"/>
<text x="49.40" y="48.20" text-anchor="start" style="font-family:'Liberation Serif', serif;font-size:9.8px;" fill="#222" textLength="49.60" lengthAdjust="spacingAndGlyphs" stroke="#222" stroke-width="0.22">NOTCH2-Va</text>
<rect x="41.60" y="54.80" width="4.30" height="4.20" fill="#8ea9f2"/>
<text x="49.40" y="61.20" text-anchor="start" style="font-family:'Liberation Serif', serif;font-size:9.8px;" fill="#222" textLength="47.60" lengthAdjust="spacingAndGlyphs" stroke="#222" stroke-width="0.22">NOTCH2FL</text>
<text transform="translate(9.00,86.80) rotate(-90)" text-anchor="middle" style="font-family:'Liberation Serif', serif;font-size:9.6px;" fill="#222" stroke="#222" stroke-width="0.22">PCR product Log<tspan font-size="6" dy="2">2</tspan><tspan dy="-2">RFU</tspan></text>
<line x1="405.20" y1="15.50" x2="405.20" y2="156.20" stroke="#333" stroke-width="1.1"/>
<line x1="402.20" y1="156.20" x2="405.20" y2="156.20" stroke="#333" stroke-width="1.1"/>
<text x="398.30" y="160.80" text-anchor="end" style="font-family:'Liberation Serif', serif;font-size:9.7px;" fill="#222" stroke="#222" stroke-width="0.22">0</text>
<line x1="402.20" y1="128.06" x2="405.20" y2="128.06" stroke="#333" stroke-width="1.1"/>
<text x="398.30" y="132.66" text-anchor="end" style="font-family:'Liberation Serif', serif;font-size:9.7px;" fill="#222" stroke="#222" stroke-width="0.22">10</text>
<line x1="402.20" y1="99.92" x2="405.20" y2="99.92" stroke="#333" stroke-width="1.1"/>
<text x="398.30" y="104.52" text-anchor="end" style="font-family:'Liberation Serif', serif;font-size:9.7px;" fill="#222" stroke="#222" stroke-width="0.22">20</text>
<line x1="402.20" y1="71.78" x2="405.20" y2="71.78" stroke="#333" stroke-width="1.1"/>
<text x="398.30" y="76.38" text-anchor="end" style="font-family:'Liberation Serif', serif;font-size:9.7px;" fill="#222" stroke="#222" stroke-width="0.22">30</text>
<line x1="402.20" y1="43.64" x2="405.20" y2="43.64" stroke="#333" stroke-width="1.1"/>
<text x="398.30" y="48.24" text-anchor="end" style="font-family:'Liberation Serif', serif;font-size:9.7px;" fill="#222" stroke="#222" stroke-width="0.22">40</text>
<line x1="402.20" y1="15.50" x2="405.20" y2="15.50" stroke="#333" stroke-width="1.1"/>
<text x="398.30" y="20.10" text-anchor="end" style="font-family:'Liberation Serif', serif;font-size:9.7px;" fill="#222" stroke="#222" stroke-width="0.22">50</text>
<rect x="407.40" y="137.87" width="1.45" height="18.33" fill="#e4735f"/>
<rect x="409.13" y="118.98" width="1.45" height="37.22" fill="#e4735f"/>
<rect x="409.13" y="96.13" width="1.45" height="22.84" fill="#86b972"/>
<rect x="410.86" y="120.95" width="1.45" height="35.25" fill="#e4735f"/>
<rect x="412.59" y="140.41" width="1.45" height="15.79" fill="#6e84e6"/>
<rect x="412.59" y="123.77" width="1.45" height="16.64" fill="#e4735f"/>
<rect x="414.32" y="137.87" width="1.45" height="18.33" fill="#6e84e6"/>
<rect x="414.32" y="135.33" width="1.45" height="2.54" fill="#e4735f"/>
<rect x="414.32" y="102.62" width="1.45" height="32.71" fill="#86b972"/>
<rect x="416.05" y="132.79" width="1.45" height="23.41" fill="#6e84e6"/>
<rect x="416.05" y="132.23" width="1.45" height="0.56" fill="#e4735f"/>
<rect x="416.05" y="98.67" width="1.45" height="33.56" fill="#86b972"/>
<rect x="417.78" y="128.85" width="1.45" height="27.35" fill="#6e84e6"/>
<rect x="417.78" y="128.28" width="1.45" height="0.56" fill="#e4735f"/>
<rect x="417.78" y="96.98" width="1.45" height="31.30" fill="#86b972"/>
<rect x="419.51" y="125.18" width="1.45" height="31.02" fill="#6e84e6"/>
<rect x="419.51" y="124.62" width="1.45" height="0.56" fill="#e4735f"/>
<rect x="419.51" y="94.72" width="1.45" height="29.89" fill="#86b972"/>
<rect x="421.24" y="123.77" width="1.45" height="32.43" fill="#6e84e6"/>
<rect x="421.24" y="123.21" width="1.45" height="0.56" fill="#e4735f"/>
<rect x="421.24" y="93.03" width="1.45" height="30.17" fill="#86b972"/>
<rect x="422.98" y="135.33" width="1.45" height="20.87" fill="#6e84e6"/>
<rect x="422.98" y="113.90" width="1.45" height="21.43" fill="#e4735f"/>
<rect x="422.98" y="69.63" width="1.45" height="44.27" fill="#86b972"/>
<rect x="424.71" y="135.33" width="1.45" height="20.87" fill="#6e84e6"/>
<rect x="424.71" y="113.34" width="1.45" height="22.00" fill="#e4735f"/>
<rect x="426.44" y="135.33" width="1.45" height="20.87" fill="#6e84e6"/>
<rect x="426.44" y="103.75" width="1.45" height="31.58" fill="#e4735f"/>
<rect x="426.44" y="70.75" width="1.45" height="32.99" fill="#86b972"/>
<rect x="428.17" y="135.05" width="1.45" height="21.15" fill="#6e84e6"/>
<rect x="428.17" y="102.62" width="1.45" height="32.43" fill="#e4735f"/>
<rect x="428.17" y="89.93" width="1.45" height="12.69" fill="#86b972"/>
<rect x="429.90" y="134.77" width="1.45" height="21.43" fill="#6e84e6"/>
<rect x="429.90" y="102.62" width="1.45" height="32.15" fill="#e4735f"/>
<rect x="429.90" y="67.09" width="1.45" height="35.53" fill="#86b972"/>
<rect x="431.63" y="134.49" width="1.45" height="21.71" fill="#6e84e6"/>
<rect x="431.63" y="103.75" width="1.45" height="30.74" fill="#e4735f"/>
<rect x="431.63" y="67.65" width="1.45" height="36.10" fill="#86b972"/>
<rect x="433.36" y="134.20" width="1.45" height="22.00" fill="#6e84e6"/>
<rect x="433.36" y="101.21" width="1.45" height="32.99" fill="#e4735f"/>
<rect x="433.36" y="69.63" width="1.45" height="31.58" fill="#86b972"/>
<rect x="435.09" y="133.92" width="1.45" height="22.28" fill="#6e84e6"/>
<rect x="435.09" y="103.75" width="1.45" height="30.17" fill="#e4735f"/>
<rect x="435.09" y="70.19" width="1.45" height="33.56" fill="#86b972"/>
<rect x="436.82" y="133.64" width="1.45" height="22.56" fill="#6e84e6"/>
<rect x="436.82" y="104.88" width="1.45" height="28.76" fill="#e4735f"/>
<rect x="436.82" y="68.78" width="1.45" height="36.10" fill="#86b972"/>
<rect x="438.55" y="133.36" width="1.45" height="22.84" fill="#6e84e6"/>
<rect x="438.55" y="109.67" width="1.45" height="23.69" fill="#e4735f"/>
<rect x="438.55" y="78.37" width="1.45" height="31.30" fill="#86b972"/>
<rect x="440.28" y="133.08" width="1.45" height="23.12" fill="#6e84e6"/>
<rect x="440.28" y="101.21" width="1.45" height="31.87" fill="#e4735f"/>
<rect x="440.28" y="65.11" width="1.45" height="36.10" fill="#86b972"/>
<rect x="442.01" y="132.79" width="1.45" height="23.41" fill="#6e84e6"/>
<rect x="442.01" y="102.62" width="1.45" height="30.17" fill="#e4735f"/>
<rect x="442.01" y="65.96" width="1.45" height="36.66" fill="#86b972"/>
<rect x="443.74" y="132.51" width="1.45" height="23.69" fill="#6e84e6"/>
<rect x="443.74" y="109.67" width="1.45" height="22.84" fill="#e4735f"/>
<rect x="443.74" y="78.37" width="1.45" height="31.30" fill="#86b972"/>
<rect x="445.47" y="132.23" width="1.45" height="23.97" fill="#6e84e6"/>
<rect x="445.47" y="101.21" width="1.45" height="31.02" fill="#e4735f"/>
<rect x="445.47" y="70.19" width="1.45" height="31.02" fill="#86b972"/>
<rect x="447.20" y="131.95" width="1.45" height="24.25" fill="#6e84e6"/>
<rect x="447.20" y="101.77" width="1.45" height="30.17" fill="#e4735f"/>
<rect x="447.20" y="71.04" width="1.45" height="30.74" fill="#86b972"/>
<rect x="448.93" y="131.10" width="1.45" height="25.10" fill="#6e84e6"/>
<rect x="448.93" y="98.58" width="1.45" height="32.52" fill="#e4735f"/>
<rect x="448.93" y="74.30" width="1.45" height="24.28" fill="#86b972"/>
<rect x="450.67" y="130.81" width="1.45" height="25.39" fill="#6e84e6"/>
<rect x="450.67" y="101.49" width="1.45" height="29.32" fill="#e4735f"/>
<rect x="450.67" y="75.59" width="1.45" height="25.90" fill="#86b972"/>
<rect x="452.40" y="130.49" width="1.45" height="25.71" fill="#6e84e6"/>
<rect x="452.40" y="97.61" width="1.45" height="32.88" fill="#e4735f"/>
<rect x="452.40" y="69.56" width="1.45" height="28.05" fill="#86b972"/>
<rect x="454.13" y="130.16" width="1.45" height="26.04" fill="#6e84e6"/>
<rect x="454.13" y="97.44" width="1.45" height="32.73" fill="#e4735f"/>
<rect x="454.13" y="69.38" width="1.45" height="28.05" fill="#86b972"/>
<rect x="455.86" y="129.84" width="1.45" height="26.36" fill="#6e84e6"/>
<rect x="455.86" y="99.09" width="1.45" height="30.75" fill="#e4735f"/>
<rect x="455.86" y="71.92" width="1.45" height="27.17" fill="#86b972"/>
<rect x="457.59" y="129.51" width="1.45" height="26.69" fill="#6e84e6"/>
<rect x="457.59" y="97.46" width="1.45" height="32.05" fill="#e4735f"/>
<rect x="457.59" y="67.38" width="1.45" height="30.09" fill="#86b972"/>
<rect x="459.32" y="129.19" width="1.45" height="27.01" fill="#6e84e6"/>
<rect x="459.32" y="102.29" width="1.45" height="26.90" fill="#e4735f"/>
<rect x="459.32" y="76.40" width="1.45" height="25.89" fill="#86b972"/>
<rect x="461.05" y="128.86" width="1.45" height="27.34" fill="#6e84e6"/>
<rect x="461.05" y="109.36" width="1.45" height="19.51" fill="#e4735f"/>
<rect x="461.05" y="73.28" width="1.45" height="36.08" fill="#86b972"/>
<rect x="462.78" y="128.54" width="1.45" height="27.66" fill="#6e84e6"/>
<rect x="462.78" y="108.93" width="1.45" height="19.61" fill="#e4735f"/>
<rect x="462.78" y="63.74" width="1.45" height="45.19" fill="#86b972"/>
<rect x="464.51" y="128.24" width="1.45" height="27.96" fill="#6e84e6"/>
<rect x="464.51" y="99.29" width="1.45" height="28.95" fill="#e4735f"/>
<rect x="464.51" y="73.48" width="1.45" height="25.80" fill="#86b972"/>
<rect x="466.24" y="128.03" width="1.45" height="28.17" fill="#6e84e6"/>
<rect x="466.24" y="103.54" width="1.45" height="24.49" fill="#e4735f"/>
<rect x="466.24" y="74.80" width="1.45" height="28.75" fill="#86b972"/>
<rect x="467.97" y="127.83" width="1.45" height="28.37" fill="#6e84e6"/>
<rect x="467.97" y="101.82" width="1.45" height="26.01" fill="#e4735f"/>
<rect x="467.97" y="62.32" width="1.45" height="39.50" fill="#86b972"/>
<rect x="469.70" y="127.63" width="1.45" height="28.57" fill="#6e84e6"/>
<rect x="469.70" y="95.88" width="1.45" height="31.75" fill="#e4735f"/>
<rect x="469.70" y="73.45" width="1.45" height="22.43" fill="#86b972"/>
<rect x="471.43" y="127.42" width="1.45" height="28.78" fill="#6e84e6"/>
<rect x="471.43" y="95.96" width="1.45" height="31.47" fill="#e4735f"/>
<rect x="471.43" y="71.71" width="1.45" height="24.25" fill="#86b972"/>
<rect x="473.16" y="127.22" width="1.45" height="28.98" fill="#6e84e6"/>
<rect x="473.16" y="106.84" width="1.45" height="20.38" fill="#e4735f"/>
<rect x="473.16" y="69.88" width="1.45" height="36.96" fill="#86b972"/>
<rect x="474.89" y="127.02" width="1.45" height="29.18" fill="#6e84e6"/>
<rect x="474.89" y="101.18" width="1.45" height="25.84" fill="#e4735f"/>
<rect x="474.89" y="69.41" width="1.45" height="31.77" fill="#86b972"/>
<rect x="476.62" y="126.81" width="1.45" height="29.39" fill="#6e84e6"/>
<rect x="476.62" y="106.79" width="1.45" height="20.02" fill="#e4735f"/>
<rect x="476.62" y="75.85" width="1.45" height="30.95" fill="#86b972"/>
<rect x="478.36" y="126.61" width="1.45" height="29.59" fill="#6e84e6"/>
<rect x="478.36" y="112.39" width="1.45" height="14.22" fill="#e4735f"/>
<rect x="478.36" y="72.52" width="1.45" height="39.87" fill="#86b972"/>
<rect x="480.09" y="126.41" width="1.45" height="29.79" fill="#6e84e6"/>
<rect x="480.09" y="104.22" width="1.45" height="22.18" fill="#e4735f"/>
<rect x="480.09" y="69.03" width="1.45" height="35.19" fill="#86b972"/>
<rect x="481.82" y="126.20" width="1.45" height="30.00" fill="#6e84e6"/>
<rect x="481.82" y="98.38" width="1.45" height="27.82" fill="#e4735f"/>
<rect x="481.82" y="66.13" width="1.45" height="32.25" fill="#86b972"/>
<rect x="483.55" y="126.00" width="1.45" height="30.20" fill="#6e84e6"/>
<rect x="483.55" y="96.93" width="1.45" height="29.07" fill="#e4735f"/>
<rect x="483.55" y="72.18" width="1.45" height="24.75" fill="#86b972"/>
<rect x="485.28" y="125.80" width="1.45" height="30.40" fill="#6e84e6"/>
<rect x="485.28" y="109.43" width="1.45" height="16.37" fill="#e4735f"/>
<rect x="485.28" y="67.26" width="1.45" height="42.16" fill="#86b972"/>
<rect x="487.01" y="125.59" width="1.45" height="30.61" fill="#6e84e6"/>
<rect x="487.01" y="106.36" width="1.45" height="19.24" fill="#e4735f"/>
<rect x="487.01" y="92.75" width="1.45" height="13.61" fill="#86b972"/>
<rect x="488.74" y="125.41" width="1.45" height="30.79" fill="#6e84e6"/>
<rect x="488.74" y="99.77" width="1.45" height="25.63" fill="#e4735f"/>
<rect x="488.74" y="61.73" width="1.45" height="38.04" fill="#86b972"/>
<rect x="490.47" y="125.24" width="1.45" height="30.96" fill="#6e84e6"/>
<rect x="490.47" y="105.28" width="1.45" height="19.96" fill="#e4735f"/>
<rect x="490.47" y="74.42" width="1.45" height="30.86" fill="#86b972"/>
<rect x="497.00" y="142.38" width="1.34" height="13.82" fill="#6e84e6"/>
<rect x="498.62" y="128.28" width="1.34" height="27.92" fill="#6e84e6"/>
<rect x="498.62" y="92.47" width="1.34" height="35.81" fill="#e4735f"/>
<rect x="498.62" y="84.29" width="1.34" height="8.18" fill="#86b972"/>
<rect x="500.24" y="127.44" width="1.34" height="28.76" fill="#6e84e6"/>
<rect x="500.24" y="91.90" width="1.34" height="35.53" fill="#e4735f"/>
<rect x="500.24" y="60.32" width="1.34" height="31.58" fill="#86b972"/>
<rect x="501.86" y="126.87" width="1.34" height="29.33" fill="#6e84e6"/>
<rect x="501.86" y="94.16" width="1.34" height="32.71" fill="#e4735f"/>
<rect x="501.86" y="60.88" width="1.34" height="33.28" fill="#86b972"/>
<rect x="503.48" y="126.31" width="1.34" height="29.89" fill="#6e84e6"/>
<rect x="503.48" y="95.57" width="1.34" height="30.74" fill="#e4735f"/>
<rect x="503.48" y="60.32" width="1.34" height="35.25" fill="#86b972"/>
<rect x="505.10" y="125.74" width="1.34" height="30.46" fill="#6e84e6"/>
<rect x="505.10" y="96.98" width="1.34" height="28.76" fill="#e4735f"/>
<rect x="505.10" y="80.06" width="1.34" height="16.92" fill="#86b972"/>
<rect x="506.72" y="125.18" width="1.34" height="31.02" fill="#6e84e6"/>
<rect x="506.72" y="94.16" width="1.34" height="31.02" fill="#e4735f"/>
<rect x="506.72" y="91.34" width="1.34" height="2.82" fill="#86b972"/>
<rect x="508.34" y="124.62" width="1.34" height="31.58" fill="#6e84e6"/>
<rect x="508.34" y="98.39" width="1.34" height="26.23" fill="#e4735f"/>
<rect x="508.34" y="61.73" width="1.34" height="36.66" fill="#86b972"/>
<rect x="509.96" y="123.77" width="1.34" height="32.43" fill="#6e84e6"/>
<rect x="509.96" y="94.16" width="1.34" height="29.61" fill="#e4735f"/>
<rect x="509.96" y="63.14" width="1.34" height="31.02" fill="#86b972"/>
<rect x="511.58" y="122.92" width="1.34" height="33.28" fill="#6e84e6"/>
<rect x="511.58" y="96.98" width="1.34" height="25.94" fill="#e4735f"/>
<rect x="511.58" y="67.37" width="1.34" height="29.61" fill="#86b972"/>
<rect x="405.20" y="155.50" width="108.30" height="1.60" fill="#1f2333"/>
<path d="M405.50,160.20 L405.50,163.40 L492.30,163.40 L492.30,160.20" fill="none" stroke="#555" stroke-width="1.4"/>
<path d="M495.50,160.20 L495.50,163.40 L513.50,163.40 L513.50,160.20" fill="none" stroke="#555" stroke-width="1.4"/>
<text x="442.00" y="178.30" text-anchor="middle" style="font-family:'Liberation Serif', serif;font-size:10.2px;" fill="#222" textLength="72.80" lengthAdjust="spacingAndGlyphs" stroke="#222" stroke-width="0.22">49 patients samples</text>
<text x="504.30" y="172.00" text-anchor="middle" style="font-family:'Liberation Serif', serif;font-size:10.2px;" fill="#222" textLength="21.00" lengthAdjust="spacingAndGlyphs" stroke="#222" stroke-width="0.22">10 ND</text>
<text x="505.30" y="182.30" text-anchor="middle" style="font-family:'Liberation Serif', serif;font-size:10.2px;" fill="#222" textLength="27.00" lengthAdjust="spacingAndGlyphs" stroke="#222" stroke-width="0.22">samples</text>
<rect x="411.90" y="14.70" width="4.10" height="3.80" fill="#3f8a3a"/>
<text x="419.00" y="20.10" text-anchor="start" style="font-family:'Liberation Serif', serif;font-size:8.2px;font-style:italic;" fill="#222" textLength="41.80" lengthAdjust="spacingAndGlyphs" stroke="#222" stroke-width="0.22">NOTCH2-Vb</text>
<rect x="411.90" y="26.20" width="4.10" height="3.80" fill="#d2232a"/>
<text x="419.00" y="31.10" text-anchor="start" style="font-family:'Liberation Serif', serif;font-size:8.2px;font-style:italic;" fill="#222" textLength="41.80" lengthAdjust="spacingAndGlyphs" stroke="#222" stroke-width="0.22">NOTCH2-Va</text>
<rect x="411.90" y="37.20" width="4.10" height="3.80" fill="#2230c8"/>
<text x="419.00" y="42.60" text-anchor="start" style="font-family:'Liberation Serif', serif;font-size:8.2px;font-style:italic;" fill="#222" textLength="41.60" lengthAdjust="spacingAndGlyphs" stroke="#222" stroke-width="0.22">NOTCH2-FL</text>
<text transform="translate(375.40,83.30) rotate(-90)" text-anchor="middle" style="font-family:'Liberation Serif', serif;font-size:9.15px;" fill="#222" stroke="#222" stroke-width="0.22">PCR product Log<tspan font-size="6" dy="2">2</tspan><tspan dy="-2">RFU</tspan></text>
<text transform="translate(164.00,209.50) scale(1.1,1)" text-anchor="start" style="font-family:'Liberation Sans', sans-serif;font-size:12.4px;font-weight:bold;" fill="#111">B</text>
<text x="180.20" y="207.80" text-anchor="start" style="font-family:'Liberation Serif', serif;font-size:10.2px;font-style:italic;" fill="#222" textLength="34.60" lengthAdjust="spacingAndGlyphs" stroke="#222" stroke-width="0.22">FLT3-FL</text>
<text x="217.50" y="207.80" text-anchor="start" style="font-family:'Liberation Serif', serif;font-size:10.2px;" fill="#222" textLength="138.50" lengthAdjust="spacingAndGlyphs" stroke="#222" stroke-width="0.22">and splice variant expression profiles</text>
<line x1="114.80" y1="216.70" x2="114.80" y2="345.00" stroke="#333" stroke-width="1.1"/>
<line x1="111.80" y1="345.00" x2="114.80" y2="345.00" stroke="#333" stroke-width="1.1"/>
<text x="107.60" y="348.50" text-anchor="end" style="font-family:'Liberation Serif', serif;font-size:9.7px;" fill="#222" stroke="#222" stroke-width="0.22">0</text>
<line x1="111.80" y1="319.34" x2="114.80" y2="319.34" stroke="#333" stroke-width="1.1"/>
<text x="107.60" y="322.84" text-anchor="end" style="font-family:'Liberation Serif', serif;font-size:9.7px;" fill="#222" stroke="#222" stroke-width="0.22">10</text>
<line x1="111.80" y1="293.68" x2="114.80" y2="293.68" stroke="#333" stroke-width="1.1"/>
<text x="107.60" y="297.18" text-anchor="end" style="font-family:'Liberation Serif', serif;font-size:9.7px;" fill="#222" stroke="#222" stroke-width="0.22">20</text>
<line x1="111.80" y1="268.02" x2="114.80" y2="268.02" stroke="#333" stroke-width="1.1"/>
<text x="107.60" y="271.52" text-anchor="end" style="font-family:'Liberation Serif', serif;font-size:9.7px;" fill="#222" stroke="#222" stroke-width="0.22">30</text>
<line x1="111.80" y1="242.36" x2="114.80" y2="242.36" stroke="#333" stroke-width="1.1"/>
<text x="107.60" y="245.86" text-anchor="end" style="font-family:'Liberation Serif', serif;font-size:9.7px;" fill="#222" stroke="#222" stroke-width="0.22">40</text>
<line x1="111.80" y1="216.70" x2="114.80" y2="216.70" stroke="#333" stroke-width="1.1"/>
<text x="107.60" y="220.20" text-anchor="end" style="font-family:'Liberation Serif', serif;font-size:9.7px;" fill="#222" stroke="#222" stroke-width="0.22">50</text>
<rect x="115.00" y="339.10" width="1.91" height="5.90" fill="#4c64e0"/>
<rect x="116.56" y="339.10" width="1.91" height="5.90" fill="#4c64e0"/>
<rect x="118.12" y="339.10" width="1.91" height="5.90" fill="#4c64e0"/>
<rect x="119.69" y="339.10" width="1.91" height="5.90" fill="#4c64e0"/>
<rect x="121.25" y="339.10" width="1.91" height="5.90" fill="#4c64e0"/>
<rect x="122.81" y="339.10" width="1.91" height="5.90" fill="#4c64e0"/>
<rect x="124.37" y="339.10" width="1.91" height="5.90" fill="#5a72e8"/>
<rect x="125.94" y="339.10" width="1.91" height="5.90" fill="#5a72e8"/>
<rect x="127.50" y="339.10" width="1.91" height="5.90" fill="#5a72e8"/>
<rect x="129.06" y="339.10" width="1.91" height="5.90" fill="#5a72e8"/>
<rect x="130.62" y="339.10" width="1.91" height="5.90" fill="#5a72e8"/>
<rect x="132.18" y="339.10" width="1.91" height="5.90" fill="#5a72e8"/>
<rect x="133.75" y="339.10" width="1.91" height="5.90" fill="#4c64e0"/>
<rect x="135.31" y="337.82" width="1.91" height="7.18" fill="#4c64e0"/>
<rect x="136.87" y="337.82" width="1.91" height="7.18" fill="#4c64e0"/>
<rect x="138.43" y="337.82" width="1.91" height="7.18" fill="#4c64e0"/>
<rect x="139.99" y="337.82" width="1.91" height="7.18" fill="#4c64e0"/>
<rect x="141.56" y="337.82" width="1.91" height="7.18" fill="#4c64e0"/>
<rect x="143.12" y="337.82" width="1.91" height="7.18" fill="#5a72e8"/>
<rect x="144.68" y="337.82" width="1.91" height="7.18" fill="#5a72e8"/>
<rect x="146.24" y="337.82" width="1.91" height="7.18" fill="#5a72e8"/>
<rect x="147.81" y="337.82" width="1.91" height="7.18" fill="#5a72e8"/>
<rect x="149.37" y="337.82" width="1.91" height="7.18" fill="#5a72e8"/>
<rect x="150.93" y="337.82" width="1.91" height="7.18" fill="#5a72e8"/>
<rect x="152.49" y="337.82" width="1.91" height="7.18" fill="#4c64e0"/>
<rect x="154.05" y="337.82" width="1.91" height="7.18" fill="#4c64e0"/>
<rect x="155.62" y="337.82" width="1.91" height="7.18" fill="#4c64e0"/>
<rect x="157.18" y="337.82" width="1.91" height="7.18" fill="#4c64e0"/>
<rect x="158.74" y="337.82" width="1.91" height="7.18" fill="#4c64e0"/>
<rect x="160.30" y="337.82" width="1.91" height="7.18" fill="#4c64e0"/>
<rect x="161.87" y="337.82" width="1.91" height="7.18" fill="#5a72e8"/>
<rect x="163.43" y="337.82" width="1.91" height="7.18" fill="#5a72e8"/>
<rect x="164.99" y="337.82" width="1.91" height="7.18" fill="#5a72e8"/>
<rect x="166.55" y="337.82" width="1.91" height="7.18" fill="#5a72e8"/>
<rect x="168.11" y="337.82" width="1.91" height="7.18" fill="#5a72e8"/>
<rect x="169.68" y="337.82" width="1.91" height="7.18" fill="#5a72e8"/>
<rect x="171.24" y="337.82" width="1.91" height="7.18" fill="#4c64e0"/>
<rect x="172.80" y="337.82" width="1.91" height="7.18" fill="#4c64e0"/>
<rect x="174.36" y="337.82" width="1.91" height="7.18" fill="#4c64e0"/>
<rect x="175.92" y="337.82" width="1.91" height="7.18" fill="#4c64e0"/>
<rect x="177.49" y="337.82" width="1.91" height="7.18" fill="#4c64e0"/>
<rect x="179.05" y="337.82" width="1.91" height="7.18" fill="#4c64e0"/>
<rect x="180.61" y="337.82" width="1.91" height="7.18" fill="#5a72e8"/>
<rect x="182.17" y="337.82" width="1.91" height="7.18" fill="#5a72e8"/>
<rect x="183.74" y="337.82" width="1.91" height="7.18" fill="#5a72e8"/>
<rect x="185.30" y="337.82" width="1.91" height="7.18" fill="#5a72e8"/>
<rect x="186.86" y="337.82" width="1.91" height="7.18" fill="#5a72e8"/>
<rect x="188.42" y="337.82" width="1.91" height="7.18" fill="#5a72e8"/>
<rect x="189.98" y="337.82" width="1.91" height="7.18" fill="#5a72e8"/>
<rect x="191.55" y="337.82" width="1.91" height="7.18" fill="#4c64e0"/>
<rect x="193.11" y="337.82" width="1.91" height="7.18" fill="#4c64e0"/>
<rect x="194.67" y="337.82" width="1.91" height="7.18" fill="#4c64e0"/>
<rect x="196.23" y="337.30" width="1.91" height="7.70" fill="#4c64e0"/>
<rect x="197.80" y="337.30" width="1.91" height="7.70" fill="#4c64e0"/>
<rect x="199.36" y="337.30" width="1.91" height="7.70" fill="#4c64e0"/>
<rect x="200.92" y="337.30" width="1.91" height="7.70" fill="#5a72e8"/>
<rect x="202.48" y="337.30" width="1.91" height="7.70" fill="#5a72e8"/>
<rect x="204.04" y="337.30" width="1.91" height="7.70" fill="#5a72e8"/>
<rect x="205.61" y="337.30" width="1.91" height="7.70" fill="#5a72e8"/>
<rect x="207.17" y="337.30" width="1.91" height="7.70" fill="#5a72e8"/>
<rect x="208.73" y="337.30" width="1.91" height="7.70" fill="#5a72e8"/>
<rect x="210.29" y="337.30" width="1.91" height="7.70" fill="#4c64e0"/>
<rect x="211.85" y="337.30" width="1.91" height="7.70" fill="#4c64e0"/>
<rect x="213.42" y="334.99" width="1.91" height="10.01" fill="#4c64e0"/>
<rect x="214.98" y="334.99" width="1.91" height="10.01" fill="#4c64e0"/>
<rect x="216.54" y="329.09" width="1.91" height="15.91" fill="#4c64e0"/>
<rect x="218.10" y="327.29" width="1.91" height="17.71" fill="#4c64e0"/>
<rect x="219.67" y="327.29" width="1.91" height="17.71" fill="#5a72e8"/>
<rect x="221.23" y="327.29" width="1.91" height="17.71" fill="#5a72e8"/>
<rect x="222.79" y="327.29" width="1.91" height="17.71" fill="#5a72e8"/>
<rect x="224.35" y="327.29" width="1.91" height="17.71" fill="#5a72e8"/>
<rect x="225.91" y="324.99" width="1.91" height="20.01" fill="#5a72e8"/>
<rect x="227.48" y="324.99" width="1.91" height="20.01" fill="#5a72e8"/>
<rect x="229.04" y="323.19" width="1.91" height="21.81" fill="#4c64e0"/>
<rect x="230.60" y="323.19" width="1.91" height="21.81" fill="#4c64e0"/>
<rect x="232.16" y="323.19" width="1.91" height="21.81" fill="#4c64e0"/>
<rect x="233.73" y="323.19" width="1.91" height="21.81" fill="#4c64e0"/>
<rect x="235.29" y="322.16" width="1.91" height="22.84" fill="#4c64e0"/>
<rect x="236.85" y="322.16" width="1.91" height="22.84" fill="#4c64e0"/>
<rect x="238.41" y="322.16" width="1.91" height="22.84" fill="#5a72e8"/>
<rect x="239.97" y="322.16" width="1.91" height="22.84" fill="#5a72e8"/>
<rect x="241.54" y="322.16" width="1.91" height="22.84" fill="#5a72e8"/>
<rect x="243.10" y="319.46" width="1.91" height="25.54" fill="#5a72e8"/>
<rect x="244.66" y="318.76" width="1.91" height="26.24" fill="#5a72e8"/>
<rect x="246.22" y="318.06" width="1.91" height="26.94" fill="#5a72e8"/>
<rect x="247.78" y="317.35" width="1.91" height="27.65" fill="#4c64e0"/>
<rect x="249.35" y="316.65" width="1.91" height="28.35" fill="#4c64e0"/>
<rect x="250.91" y="312.12" width="1.91" height="32.88" fill="#4c64e0"/>
<rect x="252.47" y="310.87" width="1.91" height="34.13" fill="#4c64e0"/>
<rect x="254.03" y="309.62" width="1.91" height="35.38" fill="#4c64e0"/>
<rect x="255.60" y="337.30" width="1.91" height="7.70" fill="#4c64e0"/>
<rect x="255.60" y="317.29" width="1.91" height="20.01" fill="#ece160"/>
<rect x="257.16" y="337.30" width="1.91" height="7.70" fill="#5a72e8"/>
<rect x="257.16" y="317.29" width="1.91" height="20.01" fill="#ece160"/>
<rect x="258.72" y="319.65" width="1.91" height="25.35" fill="#5a72e8"/>
<rect x="258.72" y="300.02" width="1.91" height="19.62" fill="#d95c45"/>
<rect x="260.28" y="318.89" width="1.91" height="26.11" fill="#5a72e8"/>
<rect x="260.28" y="299.04" width="1.91" height="19.85" fill="#d95c45"/>
<rect x="261.84" y="318.14" width="1.91" height="26.86" fill="#5a72e8"/>
<rect x="261.84" y="297.72" width="1.91" height="20.42" fill="#d95c45"/>
<rect x="263.41" y="317.39" width="1.91" height="27.61" fill="#5a72e8"/>
<rect x="263.41" y="298.10" width="1.91" height="19.29" fill="#d95c45"/>
<rect x="264.97" y="316.64" width="1.91" height="28.36" fill="#5a72e8"/>
<rect x="264.97" y="294.94" width="1.91" height="21.70" fill="#d95c45"/>
<rect x="266.53" y="315.89" width="1.91" height="29.11" fill="#4c64e0"/>
<rect x="266.53" y="295.11" width="1.91" height="20.78" fill="#d95c45"/>
<rect x="268.09" y="315.14" width="1.91" height="29.86" fill="#4c64e0"/>
<rect x="268.09" y="293.87" width="1.91" height="21.27" fill="#d95c45"/>
<rect x="269.66" y="314.39" width="1.91" height="30.61" fill="#4c64e0"/>
<rect x="269.66" y="295.66" width="1.91" height="18.73" fill="#d95c45"/>
<rect x="271.22" y="313.64" width="1.91" height="31.36" fill="#4c64e0"/>
<rect x="271.22" y="295.76" width="1.91" height="17.88" fill="#d95c45"/>
<rect x="272.78" y="312.89" width="1.91" height="32.11" fill="#4c64e0"/>
<rect x="272.78" y="293.93" width="1.91" height="18.96" fill="#d95c45"/>
<rect x="274.34" y="312.14" width="1.91" height="32.86" fill="#4c64e0"/>
<rect x="274.34" y="291.30" width="1.91" height="20.84" fill="#d95c45"/>
<rect x="275.90" y="311.39" width="1.91" height="33.61" fill="#5a72e8"/>
<rect x="275.90" y="291.76" width="1.91" height="19.63" fill="#d95c45"/>
<rect x="277.47" y="310.64" width="1.91" height="34.36" fill="#5a72e8"/>
<rect x="277.47" y="285.89" width="1.91" height="24.75" fill="#d95c45"/>
<rect x="279.03" y="309.89" width="1.91" height="35.11" fill="#5a72e8"/>
<rect x="279.03" y="286.50" width="1.91" height="23.39" fill="#d95c45"/>
<rect x="280.59" y="309.14" width="1.91" height="35.86" fill="#5a72e8"/>
<rect x="280.59" y="284.87" width="1.91" height="24.26" fill="#d95c45"/>
<rect x="282.15" y="316.77" width="1.91" height="28.23" fill="#5a72e8"/>
<rect x="283.72" y="337.30" width="1.91" height="7.70" fill="#5a72e8"/>
<rect x="283.72" y="309.56" width="1.91" height="27.74" fill="#6aa45a"/>
<rect x="285.28" y="337.30" width="1.91" height="7.70" fill="#4c64e0"/>
<rect x="285.28" y="303.89" width="1.91" height="33.41" fill="#6aa45a"/>
<rect x="286.84" y="337.30" width="1.91" height="7.70" fill="#4c64e0"/>
<rect x="286.84" y="298.22" width="1.91" height="39.09" fill="#6aa45a"/>
<rect x="288.40" y="337.30" width="1.91" height="7.70" fill="#4c64e0"/>
<rect x="288.40" y="292.54" width="1.91" height="44.76" fill="#6aa45a"/>
<rect x="289.96" y="337.30" width="1.91" height="7.70" fill="#4c64e0"/>
<rect x="289.96" y="313.18" width="1.91" height="24.12" fill="#d95c45"/>
<rect x="289.96" y="289.57" width="1.91" height="23.61" fill="#ece160"/>
<rect x="291.53" y="337.30" width="1.91" height="7.70" fill="#4c64e0"/>
<rect x="291.53" y="313.18" width="1.91" height="24.12" fill="#d95c45"/>
<rect x="291.53" y="289.57" width="1.91" height="23.61" fill="#ece160"/>
<rect x="293.09" y="312.77" width="1.91" height="32.23" fill="#4c64e0"/>
<rect x="293.09" y="290.63" width="1.91" height="22.14" fill="#d95c45"/>
<rect x="293.09" y="276.51" width="1.91" height="14.12" fill="#ece160"/>
<rect x="294.65" y="312.02" width="1.91" height="32.98" fill="#5a72e8"/>
<rect x="294.65" y="289.79" width="1.91" height="22.23" fill="#d95c45"/>
<rect x="294.65" y="276.04" width="1.91" height="13.75" fill="#ece160"/>
<rect x="296.21" y="311.28" width="1.91" height="33.72" fill="#5a72e8"/>
<rect x="296.21" y="286.66" width="1.91" height="24.62" fill="#d95c45"/>
<rect x="296.21" y="270.09" width="1.91" height="16.57" fill="#ece160"/>
<rect x="297.77" y="310.53" width="1.91" height="34.47" fill="#5a72e8"/>
<rect x="297.77" y="286.63" width="1.91" height="23.91" fill="#d95c45"/>
<rect x="297.77" y="267.82" width="1.91" height="18.80" fill="#ece160"/>
<rect x="299.34" y="309.79" width="1.91" height="35.21" fill="#5a72e8"/>
<rect x="299.34" y="284.28" width="1.91" height="25.51" fill="#d95c45"/>
<rect x="299.34" y="266.55" width="1.91" height="17.73" fill="#ece160"/>
<rect x="300.90" y="309.05" width="1.91" height="35.95" fill="#5a72e8"/>
<rect x="300.90" y="282.33" width="1.91" height="26.71" fill="#d95c45"/>
<rect x="300.90" y="262.75" width="1.91" height="19.59" fill="#ece160"/>
<rect x="302.46" y="308.30" width="1.91" height="36.70" fill="#5a72e8"/>
<rect x="302.46" y="284.19" width="1.91" height="24.11" fill="#d95c45"/>
<rect x="302.46" y="259.61" width="1.91" height="24.58" fill="#ece160"/>
<rect x="304.02" y="307.56" width="1.91" height="37.44" fill="#4c64e0"/>
<rect x="304.02" y="279.28" width="1.91" height="28.28" fill="#d95c45"/>
<rect x="304.02" y="256.76" width="1.91" height="22.52" fill="#ece160"/>
<rect x="305.59" y="306.81" width="1.91" height="38.19" fill="#4c64e0"/>
<rect x="305.59" y="277.68" width="1.91" height="29.13" fill="#d95c45"/>
<rect x="305.59" y="251.43" width="1.91" height="26.25" fill="#ece160"/>
<rect x="307.15" y="337.30" width="1.91" height="7.70" fill="#4c64e0"/>
<rect x="307.15" y="319.34" width="1.91" height="17.96" fill="#d95c45"/>
<rect x="307.15" y="293.68" width="1.91" height="25.66" fill="#6aa45a"/>
<rect x="308.71" y="337.30" width="1.91" height="7.70" fill="#4c64e0"/>
<rect x="308.71" y="319.34" width="1.91" height="17.96" fill="#d95c45"/>
<rect x="308.71" y="293.68" width="1.91" height="25.66" fill="#6aa45a"/>
<rect x="310.27" y="337.30" width="1.91" height="7.70" fill="#4c64e0"/>
<rect x="310.27" y="320.89" width="1.91" height="16.41" fill="#d95c45"/>
<rect x="310.27" y="295.27" width="1.91" height="25.62" fill="#6aa45a"/>
<rect x="311.83" y="337.30" width="1.91" height="7.70" fill="#4c64e0"/>
<rect x="311.83" y="319.39" width="1.91" height="17.91" fill="#d95c45"/>
<rect x="311.83" y="293.47" width="1.91" height="25.92" fill="#6aa45a"/>
<rect x="313.40" y="337.30" width="1.91" height="7.70" fill="#4c64e0"/>
<rect x="313.40" y="317.89" width="1.91" height="19.42" fill="#d95c45"/>
<rect x="313.40" y="290.08" width="1.91" height="27.81" fill="#6aa45a"/>
<rect x="314.96" y="337.30" width="1.91" height="7.70" fill="#5a72e8"/>
<rect x="314.96" y="316.38" width="1.91" height="20.92" fill="#d95c45"/>
<rect x="314.96" y="285.84" width="1.91" height="30.54" fill="#6aa45a"/>
<rect x="316.52" y="337.30" width="1.91" height="7.70" fill="#5a72e8"/>
<rect x="316.52" y="314.88" width="1.91" height="22.42" fill="#d95c45"/>
<rect x="316.52" y="282.55" width="1.91" height="32.33" fill="#6aa45a"/>
<rect x="318.08" y="321.43" width="1.91" height="23.57" fill="#5a72e8"/>
<rect x="318.08" y="302.33" width="1.91" height="19.10" fill="#d95c45"/>
<rect x="318.08" y="281.39" width="1.91" height="20.94" fill="#6aa45a"/>
<rect x="319.65" y="320.56" width="1.91" height="24.44" fill="#5a72e8"/>
<rect x="319.65" y="303.26" width="1.91" height="17.30" fill="#d95c45"/>
<rect x="319.65" y="285.07" width="1.91" height="18.19" fill="#6aa45a"/>
<rect x="321.21" y="319.69" width="1.91" height="25.31" fill="#5a72e8"/>
<rect x="321.21" y="300.52" width="1.91" height="19.17" fill="#d95c45"/>
<rect x="321.21" y="274.76" width="1.91" height="25.76" fill="#6aa45a"/>
<rect x="322.77" y="318.82" width="1.91" height="26.18" fill="#5a72e8"/>
<rect x="322.77" y="298.42" width="1.91" height="20.40" fill="#d95c45"/>
<rect x="322.77" y="274.33" width="1.91" height="24.09" fill="#6aa45a"/>
<rect x="324.33" y="317.95" width="1.91" height="27.05" fill="#4c64e0"/>
<rect x="324.33" y="298.08" width="1.91" height="19.87" fill="#d95c45"/>
<rect x="324.33" y="278.17" width="1.91" height="19.91" fill="#6aa45a"/>
<rect x="325.89" y="317.08" width="1.91" height="27.92" fill="#4c64e0"/>
<rect x="325.89" y="294.93" width="1.91" height="22.15" fill="#d95c45"/>
<rect x="325.89" y="267.65" width="1.91" height="27.28" fill="#6aa45a"/>
<rect x="327.46" y="316.21" width="1.91" height="28.79" fill="#4c64e0"/>
<rect x="327.46" y="290.92" width="1.91" height="25.30" fill="#d95c45"/>
<rect x="327.46" y="264.93" width="1.91" height="25.99" fill="#6aa45a"/>
<rect x="329.02" y="315.35" width="1.91" height="29.65" fill="#4c64e0"/>
<rect x="329.02" y="291.14" width="1.91" height="24.21" fill="#d95c45"/>
<rect x="329.02" y="264.30" width="1.91" height="26.84" fill="#6aa45a"/>
<rect x="330.58" y="314.97" width="1.91" height="30.03" fill="#4c64e0"/>
<rect x="330.58" y="293.29" width="1.91" height="21.68" fill="#d95c45"/>
<rect x="330.58" y="268.34" width="1.91" height="24.96" fill="#6aa45a"/>
<rect x="332.14" y="314.67" width="1.91" height="30.33" fill="#4c64e0"/>
<rect x="332.14" y="294.42" width="1.91" height="20.25" fill="#d95c45"/>
<rect x="332.14" y="261.25" width="1.91" height="33.17" fill="#6aa45a"/>
<rect x="333.70" y="314.36" width="1.91" height="30.64" fill="#5a72e8"/>
<rect x="333.70" y="293.36" width="1.91" height="21.01" fill="#d95c45"/>
<rect x="333.70" y="258.56" width="1.91" height="34.79" fill="#6aa45a"/>
<rect x="335.27" y="314.06" width="1.91" height="30.94" fill="#5a72e8"/>
<rect x="335.27" y="288.92" width="1.91" height="25.14" fill="#d95c45"/>
<rect x="335.27" y="269.29" width="1.91" height="19.64" fill="#6aa45a"/>
<rect x="336.83" y="313.76" width="1.91" height="31.24" fill="#5a72e8"/>
<rect x="336.83" y="290.72" width="1.91" height="23.03" fill="#d95c45"/>
<rect x="336.83" y="257.39" width="1.91" height="33.34" fill="#6aa45a"/>
<rect x="338.39" y="313.45" width="1.91" height="31.55" fill="#5a72e8"/>
<rect x="338.39" y="287.46" width="1.91" height="25.99" fill="#d95c45"/>
<rect x="338.39" y="260.54" width="1.91" height="26.92" fill="#6aa45a"/>
<rect x="339.95" y="313.15" width="1.91" height="31.85" fill="#5a72e8"/>
<rect x="339.95" y="290.40" width="1.91" height="22.75" fill="#d95c45"/>
<rect x="339.95" y="261.25" width="1.91" height="29.15" fill="#6aa45a"/>
<rect x="341.52" y="312.85" width="1.91" height="32.15" fill="#5a72e8"/>
<rect x="341.52" y="286.28" width="1.91" height="26.57" fill="#d95c45"/>
<rect x="341.52" y="258.04" width="1.91" height="28.24" fill="#6aa45a"/>
<rect x="343.08" y="312.54" width="1.91" height="32.46" fill="#4c64e0"/>
<rect x="343.08" y="287.50" width="1.91" height="25.05" fill="#d95c45"/>
<rect x="343.08" y="255.71" width="1.91" height="31.78" fill="#6aa45a"/>
<rect x="344.64" y="312.24" width="1.91" height="32.76" fill="#4c64e0"/>
<rect x="344.64" y="287.14" width="1.91" height="25.10" fill="#d95c45"/>
<rect x="344.64" y="244.51" width="1.91" height="42.63" fill="#6aa45a"/>
<rect x="346.20" y="311.94" width="1.91" height="33.06" fill="#4c64e0"/>
<rect x="346.20" y="288.50" width="1.91" height="23.44" fill="#d95c45"/>
<rect x="346.20" y="251.94" width="1.91" height="36.56" fill="#6aa45a"/>
<rect x="347.76" y="339.10" width="1.91" height="5.90" fill="#4c64e0"/>
<rect x="347.76" y="315.74" width="1.91" height="23.36" fill="#d95c45"/>
<rect x="347.76" y="301.39" width="1.91" height="14.34" fill="#ece160"/>
<rect x="347.76" y="257.04" width="1.91" height="44.36" fill="#6aa45a"/>
<rect x="349.33" y="339.10" width="1.91" height="5.90" fill="#4c64e0"/>
<rect x="349.33" y="315.39" width="1.91" height="23.71" fill="#d95c45"/>
<rect x="349.33" y="301.98" width="1.91" height="13.41" fill="#ece160"/>
<rect x="349.33" y="253.64" width="1.91" height="48.34" fill="#6aa45a"/>
<rect x="350.89" y="339.10" width="1.91" height="5.90" fill="#4c64e0"/>
<rect x="350.89" y="315.04" width="1.91" height="24.06" fill="#d95c45"/>
<rect x="350.89" y="302.56" width="1.91" height="12.48" fill="#ece160"/>
<rect x="350.89" y="255.29" width="1.91" height="47.27" fill="#6aa45a"/>
<rect x="352.45" y="339.10" width="1.91" height="5.90" fill="#5a72e8"/>
<rect x="352.45" y="314.69" width="1.91" height="24.41" fill="#d95c45"/>
<rect x="352.45" y="303.14" width="1.91" height="11.55" fill="#ece160"/>
<rect x="352.45" y="259.53" width="1.91" height="43.61" fill="#6aa45a"/>
<rect x="354.01" y="339.10" width="1.91" height="5.90" fill="#5a72e8"/>
<rect x="354.01" y="314.34" width="1.91" height="24.75" fill="#d95c45"/>
<rect x="354.01" y="303.72" width="1.91" height="10.62" fill="#ece160"/>
<rect x="354.01" y="253.54" width="1.91" height="50.18" fill="#6aa45a"/>
<rect x="355.58" y="339.35" width="1.91" height="5.65" fill="#5a72e8"/>
<rect x="355.58" y="309.59" width="1.91" height="29.77" fill="#d95c45"/>
<rect x="355.58" y="295.48" width="1.91" height="14.11" fill="#ece160"/>
<rect x="355.58" y="265.56" width="1.91" height="29.92" fill="#6aa45a"/>
<rect x="357.14" y="339.35" width="1.91" height="5.65" fill="#5a72e8"/>
<rect x="357.14" y="309.59" width="1.91" height="29.77" fill="#d95c45"/>
<rect x="357.14" y="295.48" width="1.91" height="14.11" fill="#ece160"/>
<rect x="357.14" y="269.11" width="1.91" height="26.36" fill="#6aa45a"/>
<rect x="358.70" y="334.33" width="1.91" height="10.67" fill="#5a72e8"/>
<rect x="358.70" y="299.24" width="1.91" height="35.10" fill="#d95c45"/>
<rect x="358.70" y="267.90" width="1.91" height="31.34" fill="#ece160"/>
<rect x="358.70" y="235.66" width="1.91" height="32.24" fill="#6aa45a"/>
<rect x="360.26" y="333.52" width="1.91" height="11.48" fill="#5a72e8"/>
<rect x="360.26" y="297.60" width="1.91" height="35.91" fill="#d95c45"/>
<rect x="360.26" y="269.58" width="1.91" height="28.02" fill="#ece160"/>
<rect x="360.26" y="235.70" width="1.91" height="33.88" fill="#6aa45a"/>
<rect x="361.82" y="332.70" width="1.91" height="12.30" fill="#4c64e0"/>
<rect x="361.82" y="297.14" width="1.91" height="35.56" fill="#d95c45"/>
<rect x="361.82" y="263.18" width="1.91" height="33.96" fill="#ece160"/>
<rect x="361.82" y="238.47" width="1.91" height="24.71" fill="#6aa45a"/>
<rect x="363.39" y="331.89" width="1.91" height="13.11" fill="#4c64e0"/>
<rect x="363.39" y="294.95" width="1.91" height="36.94" fill="#d95c45"/>
<rect x="363.39" y="262.17" width="1.91" height="32.78" fill="#ece160"/>
<rect x="363.39" y="235.91" width="1.91" height="26.26" fill="#6aa45a"/>
<rect x="364.95" y="331.07" width="1.91" height="13.93" fill="#4c64e0"/>
<rect x="364.95" y="293.82" width="1.91" height="37.25" fill="#d95c45"/>
<rect x="364.95" y="262.12" width="1.91" height="31.70" fill="#ece160"/>
<rect x="364.95" y="225.70" width="1.91" height="36.42" fill="#6aa45a"/>
<rect x="366.51" y="330.26" width="1.91" height="14.74" fill="#4c64e0"/>
<rect x="366.51" y="296.02" width="1.91" height="34.23" fill="#d95c45"/>
<rect x="366.51" y="263.72" width="1.91" height="32.30" fill="#ece160"/>
<rect x="366.51" y="230.38" width="1.91" height="33.34" fill="#6aa45a"/>
<rect x="368.07" y="329.44" width="1.91" height="15.56" fill="#4c64e0"/>
<rect x="368.07" y="292.71" width="1.91" height="36.74" fill="#d95c45"/>
<rect x="368.07" y="261.04" width="1.91" height="31.67" fill="#ece160"/>
<rect x="368.07" y="229.56" width="1.91" height="31.47" fill="#6aa45a"/>
<rect x="369.63" y="328.63" width="1.91" height="16.37" fill="#4c64e0"/>
<rect x="369.63" y="294.64" width="1.91" height="33.98" fill="#d95c45"/>
<rect x="369.63" y="262.43" width="1.91" height="32.21" fill="#ece160"/>
<rect x="369.63" y="231.98" width="1.91" height="30.45" fill="#6aa45a"/>
<rect x="371.20" y="320.29" width="1.91" height="24.71" fill="#5a72e8"/>
<rect x="371.20" y="293.73" width="1.91" height="26.56" fill="#d95c45"/>
<rect x="371.20" y="257.59" width="1.91" height="36.14" fill="#ece160"/>
<rect x="371.20" y="227.13" width="1.91" height="30.46" fill="#6aa45a"/>
<rect x="372.76" y="319.75" width="1.91" height="25.25" fill="#5a72e8"/>
<rect x="372.76" y="289.81" width="1.91" height="29.94" fill="#d95c45"/>
<rect x="372.76" y="265.55" width="1.91" height="24.27" fill="#ece160"/>
<rect x="372.76" y="226.20" width="1.91" height="39.35" fill="#6aa45a"/>
<rect x="374.32" y="319.22" width="1.91" height="25.78" fill="#5a72e8"/>
<rect x="374.32" y="291.07" width="1.91" height="28.15" fill="#d95c45"/>
<rect x="374.32" y="266.75" width="1.91" height="24.31" fill="#ece160"/>
<rect x="374.32" y="255.22" width="1.91" height="11.54" fill="#6aa45a"/>
<rect x="375.88" y="318.68" width="1.91" height="26.32" fill="#5a72e8"/>
<rect x="375.88" y="288.75" width="1.91" height="29.94" fill="#d95c45"/>
<rect x="375.88" y="258.29" width="1.91" height="30.46" fill="#ece160"/>
<rect x="375.88" y="244.78" width="1.91" height="13.51" fill="#6aa45a"/>
<rect x="377.45" y="318.15" width="1.91" height="26.85" fill="#5a72e8"/>
<rect x="377.45" y="289.59" width="1.91" height="28.56" fill="#d95c45"/>
<rect x="377.45" y="258.36" width="1.91" height="31.23" fill="#ece160"/>
<rect x="377.45" y="238.32" width="1.91" height="20.04" fill="#6aa45a"/>
<rect x="379.01" y="317.62" width="1.91" height="27.38" fill="#5a72e8"/>
<rect x="379.01" y="289.44" width="1.91" height="28.18" fill="#d95c45"/>
<rect x="379.01" y="261.29" width="1.91" height="28.14" fill="#ece160"/>
<rect x="379.01" y="244.94" width="1.91" height="16.35" fill="#6aa45a"/>
<rect x="380.57" y="315.52" width="1.91" height="29.48" fill="#4c64e0"/>
<rect x="380.57" y="287.69" width="1.91" height="27.83" fill="#d95c45"/>
<rect x="380.57" y="266.91" width="1.91" height="20.78" fill="#ece160"/>
<rect x="380.57" y="223.09" width="1.91" height="43.83" fill="#6aa45a"/>
<rect x="382.13" y="315.26" width="1.91" height="29.74" fill="#4c64e0"/>
<rect x="382.13" y="287.34" width="1.91" height="27.92" fill="#d95c45"/>
<rect x="382.13" y="269.10" width="1.91" height="18.24" fill="#ece160"/>
<rect x="382.13" y="238.79" width="1.91" height="30.30" fill="#6aa45a"/>
<rect x="383.69" y="315.00" width="1.91" height="30.00" fill="#4c64e0"/>
<rect x="383.69" y="285.09" width="1.91" height="29.92" fill="#d95c45"/>
<rect x="383.69" y="271.22" width="1.91" height="13.87" fill="#ece160"/>
<rect x="383.69" y="232.22" width="1.91" height="39.00" fill="#6aa45a"/>
<rect x="385.26" y="314.74" width="1.91" height="30.26" fill="#4c64e0"/>
<rect x="385.26" y="287.28" width="1.91" height="27.46" fill="#d95c45"/>
<rect x="385.26" y="269.54" width="1.91" height="17.74" fill="#ece160"/>
<rect x="385.26" y="227.19" width="1.91" height="42.34" fill="#6aa45a"/>
<rect x="386.82" y="314.48" width="1.91" height="30.52" fill="#4c64e0"/>
<rect x="386.82" y="283.23" width="1.91" height="31.25" fill="#d95c45"/>
<rect x="386.82" y="270.26" width="1.91" height="12.97" fill="#ece160"/>
<rect x="386.82" y="226.66" width="1.91" height="43.60" fill="#6aa45a"/>
<rect x="388.38" y="314.22" width="1.91" height="30.78" fill="#4c64e0"/>
<rect x="388.38" y="285.89" width="1.91" height="28.33" fill="#d95c45"/>
<rect x="388.38" y="267.11" width="1.91" height="18.78" fill="#ece160"/>
<rect x="388.38" y="234.07" width="1.91" height="33.04" fill="#6aa45a"/>
<rect x="389.94" y="313.96" width="1.91" height="31.04" fill="#5a72e8"/>
<rect x="389.94" y="285.78" width="1.91" height="28.18" fill="#d95c45"/>
<rect x="389.94" y="271.97" width="1.91" height="13.81" fill="#ece160"/>
<rect x="389.94" y="242.48" width="1.91" height="29.49" fill="#6aa45a"/>
<rect x="391.51" y="313.70" width="1.91" height="31.30" fill="#5a72e8"/>
<rect x="391.51" y="281.19" width="1.91" height="32.52" fill="#d95c45"/>
<rect x="391.51" y="268.38" width="1.91" height="12.80" fill="#ece160"/>
<rect x="391.51" y="248.21" width="1.91" height="20.17" fill="#6aa45a"/>
<rect x="393.07" y="313.44" width="1.91" height="31.56" fill="#5a72e8"/>
<rect x="393.07" y="280.38" width="1.91" height="33.06" fill="#d95c45"/>
<rect x="393.07" y="262.90" width="1.91" height="17.48" fill="#ece160"/>
<rect x="393.07" y="250.61" width="1.91" height="12.29" fill="#6aa45a"/>
<rect x="394.63" y="313.18" width="1.91" height="31.82" fill="#5a72e8"/>
<rect x="394.63" y="283.52" width="1.91" height="29.67" fill="#d95c45"/>
<rect x="394.63" y="266.98" width="1.91" height="16.53" fill="#ece160"/>
<rect x="394.63" y="254.94" width="1.91" height="12.04" fill="#6aa45a"/>
<rect x="396.19" y="312.92" width="1.91" height="32.08" fill="#5a72e8"/>
<rect x="396.19" y="281.68" width="1.91" height="31.25" fill="#d95c45"/>
<rect x="396.19" y="262.36" width="1.91" height="19.31" fill="#ece160"/>
<rect x="396.19" y="237.01" width="1.91" height="25.36" fill="#6aa45a"/>
<rect x="397.75" y="312.66" width="1.91" height="32.34" fill="#5a72e8"/>
<rect x="397.75" y="282.28" width="1.91" height="30.38" fill="#d95c45"/>
<rect x="397.75" y="248.80" width="1.91" height="33.48" fill="#ece160"/>
<rect x="397.75" y="214.63" width="1.91" height="34.17" fill="#6aa45a"/>
<rect x="399.32" y="312.19" width="1.91" height="32.81" fill="#4c64e0"/>
<rect x="399.32" y="279.30" width="1.91" height="32.89" fill="#d95c45"/>
<rect x="399.32" y="250.63" width="1.91" height="28.67" fill="#ece160"/>
<rect x="399.32" y="223.70" width="1.91" height="26.93" fill="#6aa45a"/>
<rect x="400.88" y="311.72" width="1.91" height="33.28" fill="#4c64e0"/>
<rect x="400.88" y="280.93" width="1.91" height="30.80" fill="#d95c45"/>
<rect x="400.88" y="251.38" width="1.91" height="29.55" fill="#ece160"/>
<rect x="400.88" y="226.64" width="1.91" height="24.73" fill="#6aa45a"/>
<rect x="402.44" y="311.25" width="1.91" height="33.75" fill="#4c64e0"/>
<rect x="402.44" y="284.07" width="1.91" height="27.19" fill="#d95c45"/>
<rect x="402.44" y="252.69" width="1.91" height="31.38" fill="#ece160"/>
<rect x="402.44" y="218.39" width="1.91" height="34.30" fill="#6aa45a"/>
<rect x="404.00" y="310.79" width="1.91" height="34.21" fill="#4c64e0"/>
<rect x="404.00" y="283.84" width="1.91" height="26.95" fill="#d95c45"/>
<rect x="404.00" y="251.08" width="1.91" height="32.76" fill="#ece160"/>
<rect x="404.00" y="222.92" width="1.91" height="28.16" fill="#6aa45a"/>
<rect x="405.56" y="310.32" width="1.91" height="34.68" fill="#4c64e0"/>
<rect x="405.56" y="279.29" width="1.91" height="31.03" fill="#d95c45"/>
<rect x="405.56" y="254.09" width="1.91" height="25.20" fill="#ece160"/>
<rect x="405.56" y="228.81" width="1.91" height="25.28" fill="#6aa45a"/>
<rect x="407.13" y="309.85" width="1.91" height="35.15" fill="#4c64e0"/>
<rect x="407.13" y="283.41" width="1.91" height="26.44" fill="#d95c45"/>
<rect x="407.13" y="252.86" width="1.91" height="30.55" fill="#ece160"/>
<rect x="407.13" y="230.13" width="1.91" height="22.73" fill="#6aa45a"/>
<rect x="408.69" y="309.38" width="1.91" height="35.62" fill="#5a72e8"/>
<rect x="408.69" y="279.06" width="1.91" height="30.32" fill="#d95c45"/>
<rect x="408.69" y="249.52" width="1.91" height="29.54" fill="#ece160"/>
<rect x="408.69" y="227.56" width="1.91" height="21.96" fill="#6aa45a"/>
<rect x="410.25" y="308.92" width="1.91" height="36.08" fill="#5a72e8"/>
<rect x="410.25" y="285.22" width="1.91" height="23.70" fill="#d95c45"/>
<rect x="410.25" y="257.56" width="1.91" height="27.66" fill="#ece160"/>
<rect x="410.25" y="232.66" width="1.91" height="24.90" fill="#6aa45a"/>
<rect x="411.81" y="308.45" width="1.91" height="36.55" fill="#5a72e8"/>
<rect x="411.81" y="279.79" width="1.91" height="28.66" fill="#d95c45"/>
<rect x="411.81" y="254.30" width="1.91" height="25.49" fill="#ece160"/>
<rect x="411.81" y="236.39" width="1.91" height="17.91" fill="#6aa45a"/>
<rect x="413.38" y="307.98" width="1.91" height="37.02" fill="#5a72e8"/>
<rect x="413.38" y="285.71" width="1.91" height="22.27" fill="#d95c45"/>
<rect x="413.38" y="255.74" width="1.91" height="29.97" fill="#ece160"/>
<rect x="413.38" y="233.01" width="1.91" height="22.73" fill="#6aa45a"/>
<rect x="414.94" y="307.51" width="1.91" height="37.49" fill="#5a72e8"/>
<rect x="414.94" y="280.60" width="1.91" height="26.92" fill="#d95c45"/>
<rect x="414.94" y="252.29" width="1.91" height="28.31" fill="#ece160"/>
<rect x="414.94" y="234.16" width="1.91" height="18.12" fill="#6aa45a"/>
<rect x="419.80" y="335.51" width="1.89" height="9.49" fill="#5168e0"/>
<rect x="421.34" y="335.51" width="1.89" height="9.49" fill="#5168e0"/>
<rect x="422.88" y="332.17" width="1.89" height="12.83" fill="#5168e0"/>
<rect x="424.42" y="319.34" width="1.89" height="25.66" fill="#5168e0"/>
<rect x="425.96" y="318.06" width="1.89" height="26.94" fill="#5168e0"/>
<rect x="427.50" y="316.77" width="1.89" height="28.23" fill="#5168e0"/>
<rect x="429.04" y="315.49" width="1.89" height="29.51" fill="#5168e0"/>
<rect x="430.58" y="314.21" width="1.89" height="30.79" fill="#5168e0"/>
<rect x="432.12" y="313.18" width="1.89" height="31.82" fill="#5168e0"/>
<rect x="433.66" y="312.16" width="1.89" height="32.84" fill="#5168e0"/>
<rect x="114.60" y="344.80" width="320.70" height="2.90" fill="#33374f"/>
<path d="M113.00,352.50 L113.00,355.50 L416.20,355.50 L416.20,352.50" fill="none" stroke="#555" stroke-width="1.4"/>
<path d="M419.80,352.00 L419.80,355.00 L435.20,355.00 L435.20,352.00" fill="none" stroke="#555" stroke-width="1.4"/>
<text x="251.60" y="371.20" text-anchor="middle" style="font-family:'Liberation Serif', serif;font-size:10.2px;" fill="#222" textLength="78.60" lengthAdjust="spacingAndGlyphs" stroke="#222" stroke-width="0.22">193 patients samples</text>
<text x="429.00" y="363.80" text-anchor="middle" style="font-family:'Liberation Serif', serif;font-size:10.2px;" fill="#222" textLength="24.30" lengthAdjust="spacingAndGlyphs" stroke="#222" stroke-width="0.22">10 ND</text>
<text x="430.80" y="375.40" text-anchor="middle" style="font-family:'Liberation Serif', serif;font-size:10.2px;" fill="#222" textLength="29.60" lengthAdjust="spacingAndGlyphs" stroke="#222" stroke-width="0.22">samples</text>
<rect x="124.00" y="218.00" width="4.60" height="4.20" fill="#3d8a35"/>
<text x="131.30" y="224.50" text-anchor="start" style="font-family:'Liberation Serif', serif;font-size:9.8px;font-style:italic;" fill="#222" textLength="33.60" lengthAdjust="spacingAndGlyphs" stroke="#222" stroke-width="0.22">FLT3-Vc</text>
<rect x="124.00" y="229.30" width="4.60" height="4.20" fill="#f1ec3c"/>
<text x="131.30" y="235.60" text-anchor="start" style="font-family:'Liberation Serif', serif;font-size:9.8px;font-style:italic;" fill="#222" textLength="33.60" lengthAdjust="spacingAndGlyphs" stroke="#222" stroke-width="0.22">FLT3-Vb</text>
<rect x="124.00" y="239.90" width="4.60" height="4.20" fill="#d9412d"/>
<text x="131.30" y="246.10" text-anchor="start" style="font-family:'Liberation Serif', serif;font-size:9.8px;font-style:italic;" fill="#222" textLength="33.60" lengthAdjust="spacingAndGlyphs" stroke="#222" stroke-width="0.22">FLT3-Va</text>
<rect x="124.00" y="250.50" width="4.60" height="4.20" fill="#2233cc"/>
<text x="131.30" y="257.00" text-anchor="start" style="font-family:'Liberation Serif', serif;font-size:9.8px;font-style:italic;" fill="#222" textLength="33.00" lengthAdjust="spacingAndGlyphs" stroke="#222" stroke-width="0.22">FLT3-FL</text>
<text transform="translate(89.00,283.60) rotate(-90)" text-anchor="middle" style="font-family:'Liberation Serif', serif;font-size:9.6px;" fill="#222" stroke="#222" stroke-width="0.22">PCR product Log<tspan font-size="6" dy="2">2</tspan><tspan dy="-2">RFU</tspan></text>
<text transform="translate(114.20,402.20) scale(1.08,1)" text-anchor="start" style="font-family:'Liberation Sans', sans-serif;font-size:13.4px;font-weight:bold;" fill="#111">C</text>
<text x="135.60" y="402.80" text-anchor="start" style="font-family:'Liberation Serif', serif;font-size:10.8px;" fill="#222" textLength="240.60" lengthAdjust="spacingAndGlyphs" stroke="#222" stroke-width="0.22">Expression profiles at diagnosis (Diag) and relapse (Rel)</text>
<rect x="117.30" y="408.60" width="15.20" height="22.00" fill="#2c5527"/>
<rect x="132.50" y="408.60" width="15.20" height="22.00" fill="#4e8a45"/>
<rect x="117.30" y="430.60" width="15.20" height="22.00" fill="#f6faf2"/>
<rect x="132.50" y="430.60" width="15.20" height="22.00" fill="#4e8a45"/>
<rect x="117.30" y="452.60" width="15.20" height="22.00" fill="#2c5527"/>
<rect x="132.50" y="452.60" width="15.20" height="22.00" fill="#3d6f37"/>
<rect x="117.30" y="474.60" width="15.20" height="22.00" fill="#2c5527"/>
<rect x="132.50" y="474.60" width="15.20" height="22.00" fill="#2c5527"/>
<rect x="117.30" y="496.60" width="15.20" height="22.00" fill="#2c5527"/>
<rect x="132.50" y="496.60" width="15.20" height="22.00" fill="#3d6f37"/>
<rect x="117.30" y="518.60" width="15.20" height="22.00" fill="#2c5527"/>
<rect x="132.50" y="518.60" width="15.20" height="22.00" fill="#2c5527"/>
<line x1="132.50" y1="408.60" x2="132.50" y2="540.60" stroke="#111" stroke-width="1.45"/>
<line x1="117.30" y1="430.60" x2="147.70" y2="430.60" stroke="#111" stroke-width="1.6"/>
<line x1="117.30" y1="452.60" x2="147.70" y2="452.60" stroke="#111" stroke-width="1.6"/>
<line x1="117.30" y1="474.60" x2="147.70" y2="474.60" stroke="#111" stroke-width="1.6"/>
<line x1="117.30" y1="496.60" x2="147.70" y2="496.60" stroke="#111" stroke-width="1.6"/>
<line x1="117.30" y1="518.60" x2="147.70" y2="518.60" stroke="#111" stroke-width="1.6"/>
<rect x="117.30" y="408.60" width="30.40" height="132.00" fill="none" stroke="#111" stroke-width="1.5"/>
<text transform="translate(127.70,573.50) rotate(-90)" text-anchor="start" style="font-family:'Liberation Serif', serif;font-size:9.3px;" fill="#222" stroke="#222" stroke-width="0.22">Diag-1</text>
<text transform="translate(142.90,573.50) rotate(-90)" text-anchor="start" style="font-family:'Liberation Serif', serif;font-size:9.3px;" fill="#222" stroke="#222" stroke-width="0.22">Rel-1</text>
<rect x="152.55" y="408.60" width="15.20" height="22.00" fill="#f6faf2"/>
<rect x="167.75" y="408.60" width="15.20" height="22.00" fill="#66a75b"/>
<rect x="152.55" y="430.60" width="15.20" height="22.00" fill="#f6faf2"/>
<rect x="167.75" y="430.60" width="15.20" height="22.00" fill="#4e8a45"/>
<rect x="152.55" y="452.60" width="15.20" height="22.00" fill="#f6faf2"/>
<rect x="167.75" y="452.60" width="15.20" height="22.00" fill="#3d6f37"/>
<rect x="152.55" y="474.60" width="15.20" height="22.00" fill="#3d6f37"/>
<rect x="167.75" y="474.60" width="15.20" height="22.00" fill="#2c5527"/>
<rect x="152.55" y="496.60" width="15.20" height="22.00" fill="#66a75b"/>
<rect x="167.75" y="496.60" width="15.20" height="22.00" fill="#66a75b"/>
<rect x="152.55" y="518.60" width="15.20" height="22.00" fill="#4e8a45"/>
<rect x="167.75" y="518.60" width="15.20" height="22.00" fill="#3d6f37"/>
<line x1="167.75" y1="408.60" x2="167.75" y2="540.60" stroke="#111" stroke-width="1.45"/>
<line x1="152.55" y1="430.60" x2="182.95" y2="430.60" stroke="#111" stroke-width="1.6"/>
<line x1="152.55" y1="452.60" x2="182.95" y2="452.60" stroke="#111" stroke-width="1.6"/>
<line x1="152.55" y1="474.60" x2="182.95" y2="474.60" stroke="#111" stroke-width="1.6"/>
<line x1="152.55" y1="496.60" x2="182.95" y2="496.60" stroke="#111" stroke-width="1.6"/>
<line x1="152.55" y1="518.60" x2="182.95" y2="518.60" stroke="#111" stroke-width="1.6"/>
<rect x="152.55" y="408.60" width="30.40" height="132.00" fill="none" stroke="#111" stroke-width="1.5"/>
<text transform="translate(162.95,573.50) rotate(-90)" text-anchor="start" style="font-family:'Liberation Serif', serif;font-size:9.3px;" fill="#222" stroke="#222" stroke-width="0.22">Diag-2</text>
<text transform="translate(178.15,573.50) rotate(-90)" text-anchor="start" style="font-family:'Liberation Serif', serif;font-size:9.3px;" fill="#222" stroke="#222" stroke-width="0.22">Rel-2</text>
<rect x="187.80" y="408.60" width="15.20" height="22.00" fill="#2c5527"/>
<rect x="203.00" y="408.60" width="15.20" height="22.00" fill="#4e8a45"/>
<rect x="187.80" y="430.60" width="15.20" height="22.00" fill="#f6faf2"/>
<rect x="203.00" y="430.60" width="15.20" height="22.00" fill="#3d6f37"/>
<rect x="187.80" y="452.60" width="15.20" height="22.00" fill="#3d6f37"/>
<rect x="203.00" y="452.60" width="15.20" height="22.00" fill="#4e8a45"/>
<rect x="187.80" y="474.60" width="15.20" height="22.00" fill="#2c5527"/>
<rect x="203.00" y="474.60" width="15.20" height="22.00" fill="#3d6f37"/>
<rect x="187.80" y="496.60" width="15.20" height="22.00" fill="#2c5527"/>
<rect x="203.00" y="496.60" width="15.20" height="22.00" fill="#2c5527"/>
<rect x="187.80" y="518.60" width="15.20" height="22.00" fill="#2c5527"/>
<rect x="203.00" y="518.60" width="15.20" height="22.00" fill="#3d6f37"/>
<line x1="203.00" y1="408.60" x2="203.00" y2="540.60" stroke="#111" stroke-width="1.45"/>
<line x1="187.80" y1="430.60" x2="218.20" y2="430.60" stroke="#111" stroke-width="1.6"/>
<line x1="187.80" y1="452.60" x2="218.20" y2="452.60" stroke="#111" stroke-width="1.6"/>
<line x1="187.80" y1="474.60" x2="218.20" y2="474.60" stroke="#111" stroke-width="1.6"/>
<line x1="187.80" y1="496.60" x2="218.20" y2="496.60" stroke="#111" stroke-width="1.6"/>
<line x1="187.80" y1="518.60" x2="218.20" y2="518.60" stroke="#111" stroke-width="1.6"/>
<rect x="187.80" y="408.60" width="30.40" height="132.00" fill="none" stroke="#111" stroke-width="1.5"/>
<text transform="translate(198.20,573.50) rotate(-90)" text-anchor="start" style="font-family:'Liberation Serif', serif;font-size:9.3px;" fill="#222" stroke="#222" stroke-width="0.22">Diag-3</text>
<text transform="translate(213.40,573.50) rotate(-90)" text-anchor="start" style="font-family:'Liberation Serif', serif;font-size:9.3px;" fill="#222" stroke="#222" stroke-width="0.22">Rel-3</text>
<rect x="223.05" y="408.60" width="15.20" height="22.00" fill="#4e8a45"/>
<rect x="238.25" y="408.60" width="15.20" height="22.00" fill="#f6faf2"/>
<rect x="223.05" y="430.60" width="15.20" height="22.00" fill="#4e8a45"/>
<rect x="238.25" y="430.60" width="15.20" height="22.00" fill="#3d6f37"/>
<rect x="223.05" y="452.60" width="15.20" height="22.00" fill="#3d6f37"/>
<rect x="238.25" y="452.60" width="15.20" height="22.00" fill="#3d6f37"/>
<rect x="223.05" y="474.60" width="15.20" height="22.00" fill="#3d6f37"/>
<rect x="238.25" y="474.60" width="15.20" height="22.00" fill="#4e8a45"/>
<rect x="223.05" y="496.60" width="15.20" height="22.00" fill="#2c5527"/>
<rect x="238.25" y="496.60" width="15.20" height="22.00" fill="#2c5527"/>
<rect x="223.05" y="518.60" width="15.20" height="22.00" fill="#66a75b"/>
<rect x="238.25" y="518.60" width="15.20" height="22.00" fill="#2c5527"/>
<line x1="238.25" y1="408.60" x2="238.25" y2="540.60" stroke="#111" stroke-width="1.45"/>
<line x1="223.05" y1="430.60" x2="253.45" y2="430.60" stroke="#111" stroke-width="1.6"/>
<line x1="223.05" y1="452.60" x2="253.45" y2="452.60" stroke="#111" stroke-width="1.6"/>
<line x1="223.05" y1="474.60" x2="253.45" y2="474.60" stroke="#111" stroke-width="1.6"/>
<line x1="223.05" y1="496.60" x2="253.45" y2="496.60" stroke="#111" stroke-width="1.6"/>
<line x1="223.05" y1="518.60" x2="253.45" y2="518.60" stroke="#111" stroke-width="1.6"/>
<rect x="223.05" y="408.60" width="30.40" height="132.00" fill="none" stroke="#111" stroke-width="1.5"/>
<text transform="translate(233.45,573.50) rotate(-90)" text-anchor="start" style="font-family:'Liberation Serif', serif;font-size:9.3px;" fill="#222" stroke="#222" stroke-width="0.22">Diag-4</text>
<text transform="translate(248.65,573.50) rotate(-90)" text-anchor="start" style="font-family:'Liberation Serif', serif;font-size:9.3px;" fill="#222" stroke="#222" stroke-width="0.22">Rel-4</text>
<rect x="258.30" y="408.60" width="15.20" height="22.00" fill="#2c5527"/>
<rect x="273.50" y="408.60" width="15.20" height="22.00" fill="#2c5527"/>
<rect x="258.30" y="430.60" width="15.20" height="22.00" fill="#4e8a45"/>
<rect x="273.50" y="430.60" width="15.20" height="22.00" fill="#4e8a45"/>
<rect x="258.30" y="452.60" width="15.20" height="22.00" fill="#2c5527"/>
<rect x="273.50" y="452.60" width="15.20" height="22.00" fill="#2c5527"/>
<rect x="258.30" y="474.60" width="15.20" height="22.00" fill="#2c5527"/>
<rect x="273.50" y="474.60" width="15.20" height="22.00" fill="#2c5527"/>
<rect x="258.30" y="496.60" width="15.20" height="22.00" fill="#2c5527"/>
<rect x="273.50" y="496.60" width="15.20" height="22.00" fill="#2c5527"/>
<rect x="258.30" y="518.60" width="15.20" height="22.00" fill="#2c5527"/>
<rect x="273.50" y="518.60" width="15.20" height="22.00" fill="#2c5527"/>
<line x1="273.50" y1="408.60" x2="273.50" y2="540.60" stroke="#111" stroke-width="1.45"/>
<line x1="258.30" y1="430.60" x2="288.70" y2="430.60" stroke="#111" stroke-width="1.6"/>
<line x1="258.30" y1="452.60" x2="288.70" y2="452.60" stroke="#111" stroke-width="1.6"/>
<line x1="258.30" y1="474.60" x2="288.70" y2="474.60" stroke="#111" stroke-width="1.6"/>
<line x1="258.30" y1="496.60" x2="288.70" y2="496.60" stroke="#111" stroke-width="1.6"/>
<line x1="258.30" y1="518.60" x2="288.70" y2="518.60" stroke="#111" stroke-width="1.6"/>
<rect x="258.30" y="408.60" width="30.40" height="132.00" fill="none" stroke="#111" stroke-width="1.5"/>
<text transform="translate(268.70,573.50) rotate(-90)" text-anchor="start" style="font-family:'Liberation Serif', serif;font-size:9.3px;" fill="#222" stroke="#222" stroke-width="0.22">Diag-5</text>
<text transform="translate(283.90,573.50) rotate(-90)" text-anchor="start" style="font-family:'Liberation Serif', serif;font-size:9.3px;" fill="#222" stroke="#222" stroke-width="0.22">Rel-5</text>
<rect x="293.55" y="408.60" width="15.20" height="22.00" fill="#4e8a45"/>
<rect x="308.75" y="408.60" width="15.20" height="22.00" fill="#66a75b"/>
<rect x="293.55" y="430.60" width="15.20" height="22.00" fill="#f6faf2"/>
<rect x="308.75" y="430.60" width="15.20" height="22.00" fill="#f6faf2"/>
<rect x="293.55" y="452.60" width="15.20" height="22.00" fill="#f6faf2"/>
<rect x="308.75" y="452.60" width="15.20" height="22.00" fill="#66a75b"/>
<rect x="293.55" y="474.60" width="15.20" height="22.00" fill="#4e8a45"/>
<rect x="308.75" y="474.60" width="15.20" height="22.00" fill="#2c5527"/>
<rect x="293.55" y="496.60" width="15.20" height="22.00" fill="#f6faf2"/>
<rect x="308.75" y="496.60" width="15.20" height="22.00" fill="#2c5527"/>
<rect x="293.55" y="518.60" width="15.20" height="22.00" fill="#2c5527"/>
<rect x="308.75" y="518.60" width="15.20" height="22.00" fill="#2c5527"/>
<line x1="308.75" y1="408.60" x2="308.75" y2="540.60" stroke="#111" stroke-width="1.45"/>
<line x1="293.55" y1="430.60" x2="323.95" y2="430.60" stroke="#111" stroke-width="1.6"/>
<line x1="293.55" y1="452.60" x2="323.95" y2="452.60" stroke="#111" stroke-width="1.6"/>
<line x1="293.55" y1="474.60" x2="323.95" y2="474.60" stroke="#111" stroke-width="1.6"/>
<line x1="293.55" y1="496.60" x2="323.95" y2="496.60" stroke="#111" stroke-width="1.6"/>
<line x1="293.55" y1="518.60" x2="323.95" y2="518.60" stroke="#111" stroke-width="1.6"/>
<rect x="293.55" y="408.60" width="30.40" height="132.00" fill="none" stroke="#111" stroke-width="1.5"/>
<text transform="translate(303.95,573.50) rotate(-90)" text-anchor="start" style="font-family:'Liberation Serif', serif;font-size:9.3px;" fill="#222" stroke="#222" stroke-width="0.22">Diag-6</text>
<text transform="translate(319.15,573.50) rotate(-90)" text-anchor="start" style="font-family:'Liberation Serif', serif;font-size:9.3px;" fill="#222" stroke="#222" stroke-width="0.22">Rel-6</text>
<rect x="328.80" y="408.60" width="15.20" height="22.00" fill="#f6faf2"/>
<rect x="344.00" y="408.60" width="15.20" height="22.00" fill="#3d6f37"/>
<rect x="328.80" y="430.60" width="15.20" height="22.00" fill="#f6faf2"/>
<rect x="344.00" y="430.60" width="15.20" height="22.00" fill="#f6faf2"/>
<rect x="328.80" y="452.60" width="15.20" height="22.00" fill="#f6faf2"/>
<rect x="344.00" y="452.60" width="15.20" height="22.00" fill="#3d6f37"/>
<rect x="328.80" y="474.60" width="15.20" height="22.00" fill="#8cc37d"/>
<rect x="344.00" y="474.60" width="15.20" height="22.00" fill="#4e8a45"/>
<rect x="328.80" y="496.60" width="15.20" height="22.00" fill="#f6faf2"/>
<rect x="344.00" y="496.60" width="15.20" height="22.00" fill="#8cc37d"/>
<rect x="328.80" y="518.60" width="15.20" height="22.00" fill="#4e8a45"/>
<rect x="344.00" y="518.60" width="15.20" height="22.00" fill="#2c5527"/>
<line x1="344.00" y1="408.60" x2="344.00" y2="540.60" stroke="#111" stroke-width="1.45"/>
<line x1="328.80" y1="430.60" x2="359.20" y2="430.60" stroke="#111" stroke-width="1.6"/>
<line x1="328.80" y1="452.60" x2="359.20" y2="452.60" stroke="#111" stroke-width="1.6"/>
<line x1="328.80" y1="474.60" x2="359.20" y2="474.60" stroke="#111" stroke-width="1.6"/>
<line x1="328.80" y1="496.60" x2="359.20" y2="496.60" stroke="#111" stroke-width="1.6"/>
<line x1="328.80" y1="518.60" x2="359.20" y2="518.60" stroke="#111" stroke-width="1.6"/>
<rect x="328.80" y="408.60" width="30.40" height="132.00" fill="none" stroke="#111" stroke-width="1.5"/>
<text transform="translate(339.20,573.50) rotate(-90)" text-anchor="start" style="font-family:'Liberation Serif', serif;font-size:9.3px;" fill="#222" stroke="#222" stroke-width="0.22">Diag-7</text>
<text transform="translate(354.40,573.50) rotate(-90)" text-anchor="start" style="font-family:'Liberation Serif', serif;font-size:9.3px;" fill="#222" stroke="#222" stroke-width="0.22">Rel-7</text>
<rect x="364.05" y="408.60" width="15.20" height="22.00" fill="#f6faf2"/>
<rect x="379.25" y="408.60" width="15.20" height="22.00" fill="#4e8a45"/>
<rect x="364.05" y="430.60" width="15.20" height="22.00" fill="#f6faf2"/>
<rect x="379.25" y="430.60" width="15.20" height="22.00" fill="#4e8a45"/>
<rect x="364.05" y="452.60" width="15.20" height="22.00" fill="#f6faf2"/>
<rect x="379.25" y="452.60" width="15.20" height="22.00" fill="#3d6f37"/>
<rect x="364.05" y="474.60" width="15.20" height="22.00" fill="#c6e3ba"/>
<rect x="379.25" y="474.60" width="15.20" height="22.00" fill="#3d6f37"/>
<rect x="364.05" y="496.60" width="15.20" height="22.00" fill="#f6faf2"/>
<rect x="379.25" y="496.60" width="15.20" height="22.00" fill="#2c5527"/>
<rect x="364.05" y="518.60" width="15.20" height="22.00" fill="#8cc37d"/>
<rect x="379.25" y="518.60" width="15.20" height="22.00" fill="#2c5527"/>
<line x1="379.25" y1="408.60" x2="379.25" y2="540.60" stroke="#111" stroke-width="1.45"/>
<line x1="364.05" y1="430.60" x2="394.45" y2="430.60" stroke="#111" stroke-width="1.6"/>
<line x1="364.05" y1="452.60" x2="394.45" y2="452.60" stroke="#111" stroke-width="1.6"/>
<line x1="364.05" y1="474.60" x2="394.45" y2="474.60" stroke="#111" stroke-width="1.6"/>
<line x1="364.05" y1="496.60" x2="394.45" y2="496.60" stroke="#111" stroke-width="1.6"/>
<line x1="364.05" y1="518.60" x2="394.45" y2="518.60" stroke="#111" stroke-width="1.6"/>
<rect x="364.05" y="408.60" width="30.40" height="132.00" fill="none" stroke="#111" stroke-width="1.5"/>
<text transform="translate(374.45,573.50) rotate(-90)" text-anchor="start" style="font-family:'Liberation Serif', serif;font-size:9.3px;" fill="#222" stroke="#222" stroke-width="0.22">Diag-8</text>
<text transform="translate(389.65,573.50) rotate(-90)" text-anchor="start" style="font-family:'Liberation Serif', serif;font-size:9.3px;" fill="#222" stroke="#222" stroke-width="0.22">Rel-8</text>
<text x="63.20" y="427.50" text-anchor="start" style="font-family:'Liberation Serif', serif;font-size:10.0px;font-style:italic;" fill="#222" textLength="34.20" lengthAdjust="spacingAndGlyphs" stroke="#222" stroke-width="0.22">FLT3-Vc</text>
<text x="63.20" y="448.90" text-anchor="start" style="font-family:'Liberation Serif', serif;font-size:10.0px;font-style:italic;" fill="#222" textLength="34.20" lengthAdjust="spacingAndGlyphs" stroke="#222" stroke-width="0.22">FLT3-Vb</text>
<text x="63.20" y="470.00" text-anchor="start" style="font-family:'Liberation Serif', serif;font-size:10.0px;font-style:italic;" fill="#222" textLength="34.20" lengthAdjust="spacingAndGlyphs" stroke="#222" stroke-width="0.22">FLT3-Va</text>
<text x="63.20" y="491.00" text-anchor="start" style="font-family:'Liberation Serif', serif;font-size:10.0px;font-style:italic;" fill="#222" textLength="33.70" lengthAdjust="spacingAndGlyphs" stroke="#222" stroke-width="0.22">FLT3-FL</text>
<text x="63.20" y="514.60" text-anchor="start" style="font-family:'Liberation Serif', serif;font-size:10.0px;font-style:italic;" fill="#222" textLength="49.80" lengthAdjust="spacingAndGlyphs" stroke="#222" stroke-width="0.22">NOTCH2-Va</text>
<text x="63.20" y="535.70" text-anchor="start" style="font-family:'Liberation Serif', serif;font-size:10.0px;font-style:italic;" fill="#222" textLength="49.80" lengthAdjust="spacingAndGlyphs" stroke="#222" stroke-width="0.22">NOTCH2-FL</text>
<defs><linearGradient id="g0" x1="0" y1="0" x2="0" y2="1"><stop offset="0" stop-color="#28522a"/><stop offset="1" stop-color="#3f7339"/></linearGradient><linearGradient id="g1" x1="0" y1="0" x2="0" y2="1"><stop offset="0" stop-color="#457f3f"/><stop offset="1" stop-color="#5a9a51"/></linearGradient><linearGradient id="g2" x1="0" y1="0" x2="0" y2="1"><stop offset="0" stop-color="#62a356"/><stop offset="1" stop-color="#8ec67c"/></linearGradient><linearGradient id="g3" x1="0" y1="0" x2="0" y2="1"><stop offset="0" stop-color="#a6d595"/><stop offset="1" stop-color="#d2eac6"/></linearGradient><linearGradient id="g4" x1="0" y1="0" x2="0" y2="1"><stop offset="0" stop-color="#e2f1da"/><stop offset="1" stop-color="#f8fbf4"/></linearGradient></defs>
<rect x="433.60" y="409.30" width="22.00" height="26.38" fill="url(#g0)"/>
<rect x="433.60" y="435.68" width="22.00" height="26.38" fill="url(#g1)"/>
<rect x="433.60" y="462.06" width="22.00" height="26.38" fill="url(#g2)"/>
<rect x="433.60" y="488.44" width="22.00" height="26.38" fill="url(#g3)"/>
<rect x="433.60" y="514.82" width="22.00" height="26.38" fill="url(#g4)"/>
<line x1="433.60" y1="435.68" x2="455.60" y2="435.68" stroke="#111" stroke-width="1.2"/>
<line x1="433.60" y1="462.06" x2="455.60" y2="462.06" stroke="#111" stroke-width="1.2"/>
<line x1="433.60" y1="488.44" x2="455.60" y2="488.44" stroke="#111" stroke-width="1.2"/>
<line x1="433.60" y1="514.82" x2="455.60" y2="514.82" stroke="#111" stroke-width="1.2"/>
<rect x="433.60" y="409.30" width="22.00" height="131.90" fill="none" stroke="#111" stroke-width="1.6"/>
<text x="458.40" y="411.70" text-anchor="start" style="font-family:'Liberation Sans', sans-serif;font-size:8.3px;font-weight:bold;" fill="#111">13.1</text>
<text x="458.40" y="436.90" text-anchor="start" style="font-family:'Liberation Sans', sans-serif;font-size:8.3px;font-weight:bold;" fill="#111">10.5</text>
<text x="458.40" y="463.10" text-anchor="start" style="font-family:'Liberation Sans', sans-serif;font-size:8.3px;font-weight:bold;" fill="#111">7.9</text>
<text x="458.40" y="489.10" text-anchor="start" style="font-family:'Liberation Sans', sans-serif;font-size:8.3px;font-weight:bold;" fill="#111">6.2</text>
<text x="458.40" y="512.30" text-anchor="start" style="font-family:'Liberation Sans', sans-serif;font-size:8.3px;font-weight:bold;" fill="#111">2.6</text>
<text x="458.40" y="540.10" text-anchor="start" style="font-family:'Liberation Sans', sans-serif;font-size:8.3px;font-weight:bold;" fill="#111">0</text>
<text transform="translate(487.00,471.70) rotate(-90)" text-anchor="middle" style="font-family:'Liberation Sans', sans-serif;font-size:8.4px;font-weight:bold;" fill="#111" textLength="93.00" lengthAdjust="spacingAndGlyphs">log 2 (PCR product RFU)</text>
<text transform="translate(65.20,605.50) scale(1.1,1)" text-anchor="start" style="font-family:'Liberation Sans', sans-serif;font-size:12.4px;font-weight:bold;" fill="#111">D</text>
<text x="80.80" y="604.20" text-anchor="start" style="font-family:'Liberation Serif', serif;font-size:10.8px;" fill="#222" textLength="134.60" lengthAdjust="spacingAndGlyphs" stroke="#222" stroke-width="0.22">Expression profiles at diagnosis</text>
<text x="82.70" y="616.00" text-anchor="start" style="font-family:'Liberation Serif', serif;font-size:10.8px;" fill="#222" textLength="120.30" lengthAdjust="spacingAndGlyphs" stroke="#222" stroke-width="0.22">(Diag) and remission (Rem)</text>
<rect x="61.40" y="628.00" width="16.15" height="20.88" fill="#4e8a45"/>
<rect x="77.55" y="628.00" width="16.15" height="20.88" fill="#f6faf2"/>
<rect x="61.40" y="648.88" width="16.15" height="20.88" fill="#8cc37d"/>
<rect x="77.55" y="648.88" width="16.15" height="20.88" fill="#8cc37d"/>
<rect x="61.40" y="669.76" width="16.15" height="20.88" fill="#66a75b"/>
<rect x="77.55" y="669.76" width="16.15" height="20.88" fill="#f6faf2"/>
<rect x="61.40" y="690.64" width="16.15" height="20.88" fill="#3d6f37"/>
<rect x="77.55" y="690.64" width="16.15" height="20.88" fill="#3d6f37"/>
<rect x="61.40" y="711.52" width="16.15" height="20.88" fill="#4e8a45"/>
<rect x="77.55" y="711.52" width="16.15" height="20.88" fill="#c6e3ba"/>
<rect x="61.40" y="732.40" width="16.15" height="20.88" fill="#3d6f37"/>
<rect x="77.55" y="732.40" width="16.15" height="20.88" fill="#2c5527"/>
<line x1="77.55" y1="628.00" x2="77.55" y2="753.28" stroke="#111" stroke-width="1.45"/>
<line x1="61.40" y1="648.88" x2="93.70" y2="648.88" stroke="#111" stroke-width="1.6"/>
<line x1="61.40" y1="669.76" x2="93.70" y2="669.76" stroke="#111" stroke-width="1.6"/>
<line x1="61.40" y1="690.64" x2="93.70" y2="690.64" stroke="#111" stroke-width="1.6"/>
<line x1="61.40" y1="711.52" x2="93.70" y2="711.52" stroke="#111" stroke-width="1.6"/>
<line x1="61.40" y1="732.40" x2="93.70" y2="732.40" stroke="#111" stroke-width="1.6"/>
<rect x="61.40" y="628.00" width="32.30" height="125.28" fill="none" stroke="#111" stroke-width="1.5"/>
<text transform="translate(73.67,788.00) rotate(-90)" text-anchor="start" style="font-family:'Liberation Serif', serif;font-size:9.6px;" fill="#222" stroke="#222" stroke-width="0.22">Diag-9</text>
<text transform="translate(89.83,788.00) rotate(-90)" text-anchor="start" style="font-family:'Liberation Serif', serif;font-size:9.6px;" fill="#222" stroke="#222" stroke-width="0.22">Rem-9</text>
<rect x="98.07" y="628.00" width="16.15" height="20.88" fill="#4e8a45"/>
<rect x="114.22" y="628.00" width="16.15" height="20.88" fill="#f6faf2"/>
<rect x="98.07" y="648.88" width="16.15" height="20.88" fill="#f6faf2"/>
<rect x="114.22" y="648.88" width="16.15" height="20.88" fill="#f6faf2"/>
<rect x="98.07" y="669.76" width="16.15" height="20.88" fill="#f6faf2"/>
<rect x="114.22" y="669.76" width="16.15" height="20.88" fill="#f6faf2"/>
<rect x="98.07" y="690.64" width="16.15" height="20.88" fill="#66a75b"/>
<rect x="114.22" y="690.64" width="16.15" height="20.88" fill="#e0efd8"/>
<rect x="98.07" y="711.52" width="16.15" height="20.88" fill="#3d6f37"/>
<rect x="114.22" y="711.52" width="16.15" height="20.88" fill="#f6faf2"/>
<rect x="98.07" y="732.40" width="16.15" height="20.88" fill="#66a75b"/>
<rect x="114.22" y="732.40" width="16.15" height="20.88" fill="#2c5527"/>
<line x1="114.22" y1="628.00" x2="114.22" y2="753.28" stroke="#111" stroke-width="1.45"/>
<line x1="98.07" y1="648.88" x2="130.37" y2="648.88" stroke="#111" stroke-width="1.6"/>
<line x1="98.07" y1="669.76" x2="130.37" y2="669.76" stroke="#111" stroke-width="1.6"/>
<line x1="98.07" y1="690.64" x2="130.37" y2="690.64" stroke="#111" stroke-width="1.6"/>
<line x1="98.07" y1="711.52" x2="130.37" y2="711.52" stroke="#111" stroke-width="1.6"/>
<line x1="98.07" y1="732.40" x2="130.37" y2="732.40" stroke="#111" stroke-width="1.6"/>
<rect x="98.07" y="628.00" width="32.30" height="125.28" fill="none" stroke="#111" stroke-width="1.5"/>
<text transform="translate(110.34,788.00) rotate(-90)" text-anchor="start" style="font-family:'Liberation Serif', serif;font-size:9.6px;" fill="#222" stroke="#222" stroke-width="0.22">Diag-10</text>
<text transform="translate(126.49,788.00) rotate(-90)" text-anchor="start" style="font-family:'Liberation Serif', serif;font-size:9.6px;" fill="#222" stroke="#222" stroke-width="0.22">Rem-10</text>
<rect x="134.74" y="628.00" width="16.15" height="20.88" fill="#2c5527"/>
<rect x="150.89" y="628.00" width="16.15" height="20.88" fill="#f6faf2"/>
<rect x="134.74" y="648.88" width="16.15" height="20.88" fill="#4e8a45"/>
<rect x="150.89" y="648.88" width="16.15" height="20.88" fill="#f6faf2"/>
<rect x="134.74" y="669.76" width="16.15" height="20.88" fill="#4e8a45"/>
<rect x="150.89" y="669.76" width="16.15" height="20.88" fill="#f6faf2"/>
<rect x="134.74" y="690.64" width="16.15" height="20.88" fill="#2c5527"/>
<rect x="150.89" y="690.64" width="16.15" height="20.88" fill="#66a75b"/>
<rect x="134.74" y="711.52" width="16.15" height="20.88" fill="#2c5527"/>
<rect x="150.89" y="711.52" width="16.15" height="20.88" fill="#2c5527"/>
<rect x="134.74" y="732.40" width="16.15" height="20.88" fill="#2c5527"/>
<rect x="150.89" y="732.40" width="16.15" height="20.88" fill="#2c5527"/>
<line x1="150.89" y1="628.00" x2="150.89" y2="753.28" stroke="#111" stroke-width="1.45"/>
<line x1="134.74" y1="648.88" x2="167.04" y2="648.88" stroke="#111" stroke-width="1.6"/>
<line x1="134.74" y1="669.76" x2="167.04" y2="669.76" stroke="#111" stroke-width="1.6"/>
<line x1="134.74" y1="690.64" x2="167.04" y2="690.64" stroke="#111" stroke-width="1.6"/>
<line x1="134.74" y1="711.52" x2="167.04" y2="711.52" stroke="#111" stroke-width="1.6"/>
<line x1="134.74" y1="732.40" x2="167.04" y2="732.40" stroke="#111" stroke-width="1.6"/>
<rect x="134.74" y="628.00" width="32.30" height="125.28" fill="none" stroke="#111" stroke-width="1.5"/>
<text transform="translate(147.01,788.00) rotate(-90)" text-anchor="start" style="font-family:'Liberation Serif', serif;font-size:9.6px;" fill="#222" stroke="#222" stroke-width="0.22">Diag-11</text>
<text transform="translate(163.16,788.00) rotate(-90)" text-anchor="start" style="font-family:'Liberation Serif', serif;font-size:9.6px;" fill="#222" stroke="#222" stroke-width="0.22">Rem-11</text>
<rect x="171.41" y="628.00" width="16.15" height="20.88" fill="#4e8a45"/>
<rect x="187.56" y="628.00" width="16.15" height="20.88" fill="#4e8a45"/>
<rect x="171.41" y="648.88" width="16.15" height="20.88" fill="#f6faf2"/>
<rect x="187.56" y="648.88" width="16.15" height="20.88" fill="#f6faf2"/>
<rect x="171.41" y="669.76" width="16.15" height="20.88" fill="#4e8a45"/>
<rect x="187.56" y="669.76" width="16.15" height="20.88" fill="#f6faf2"/>
<rect x="171.41" y="690.64" width="16.15" height="20.88" fill="#3d6f37"/>
<rect x="187.56" y="690.64" width="16.15" height="20.88" fill="#e0efd8"/>
<rect x="171.41" y="711.52" width="16.15" height="20.88" fill="#66a75b"/>
<rect x="187.56" y="711.52" width="16.15" height="20.88" fill="#f6faf2"/>
<rect x="171.41" y="732.40" width="16.15" height="20.88" fill="#3d6f37"/>
<rect x="187.56" y="732.40" width="16.15" height="20.88" fill="#4e8a45"/>
<line x1="187.56" y1="628.00" x2="187.56" y2="753.28" stroke="#111" stroke-width="1.45"/>
<line x1="171.41" y1="648.88" x2="203.71" y2="648.88" stroke="#111" stroke-width="1.6"/>
<line x1="171.41" y1="669.76" x2="203.71" y2="669.76" stroke="#111" stroke-width="1.6"/>
<line x1="171.41" y1="690.64" x2="203.71" y2="690.64" stroke="#111" stroke-width="1.6"/>
<line x1="171.41" y1="711.52" x2="203.71" y2="711.52" stroke="#111" stroke-width="1.6"/>
<line x1="171.41" y1="732.40" x2="203.71" y2="732.40" stroke="#111" stroke-width="1.6"/>
<rect x="171.41" y="628.00" width="32.30" height="125.28" fill="none" stroke="#111" stroke-width="1.5"/>
<text transform="translate(183.68,788.00) rotate(-90)" text-anchor="start" style="font-family:'Liberation Serif', serif;font-size:9.6px;" fill="#222" stroke="#222" stroke-width="0.22">Diag-12</text>
<text transform="translate(199.83,788.00) rotate(-90)" text-anchor="start" style="font-family:'Liberation Serif', serif;font-size:9.6px;" fill="#222" stroke="#222" stroke-width="0.22">Rem-12</text>
<rect x="208.08" y="628.00" width="16.15" height="20.88" fill="#2c5527"/>
<rect x="224.23" y="628.00" width="16.15" height="20.88" fill="#f6faf2"/>
<rect x="208.08" y="648.88" width="16.15" height="20.88" fill="#4e8a45"/>
<rect x="224.23" y="648.88" width="16.15" height="20.88" fill="#8cc37d"/>
<rect x="208.08" y="669.76" width="16.15" height="20.88" fill="#2c5527"/>
<rect x="224.23" y="669.76" width="16.15" height="20.88" fill="#f6faf2"/>
<rect x="208.08" y="690.64" width="16.15" height="20.88" fill="#3d6f37"/>
<rect x="224.23" y="690.64" width="16.15" height="20.88" fill="#8cc37d"/>
<rect x="208.08" y="711.52" width="16.15" height="20.88" fill="#2c5527"/>
<rect x="224.23" y="711.52" width="16.15" height="20.88" fill="#2c5527"/>
<rect x="208.08" y="732.40" width="16.15" height="20.88" fill="#2c5527"/>
<rect x="224.23" y="732.40" width="16.15" height="20.88" fill="#2c5527"/>
<line x1="224.23" y1="628.00" x2="224.23" y2="753.28" stroke="#111" stroke-width="1.45"/>
<line x1="208.08" y1="648.88" x2="240.38" y2="648.88" stroke="#111" stroke-width="1.6"/>
<line x1="208.08" y1="669.76" x2="240.38" y2="669.76" stroke="#111" stroke-width="1.6"/>
<line x1="208.08" y1="690.64" x2="240.38" y2="690.64" stroke="#111" stroke-width="1.6"/>
<line x1="208.08" y1="711.52" x2="240.38" y2="711.52" stroke="#111" stroke-width="1.6"/>
<line x1="208.08" y1="732.40" x2="240.38" y2="732.40" stroke="#111" stroke-width="1.6"/>
<rect x="208.08" y="628.00" width="32.30" height="125.28" fill="none" stroke="#111" stroke-width="1.5"/>
<text transform="translate(220.35,788.00) rotate(-90)" text-anchor="start" style="font-family:'Liberation Serif', serif;font-size:9.6px;" fill="#222" stroke="#222" stroke-width="0.22">Diag-13</text>
<text transform="translate(236.50,788.00) rotate(-90)" text-anchor="start" style="font-family:'Liberation Serif', serif;font-size:9.6px;" fill="#222" stroke="#222" stroke-width="0.22">Rem-13</text>
<text x="3.90" y="642.50" text-anchor="start" style="font-family:'Liberation Serif', serif;font-size:10.0px;font-style:italic;" fill="#222" textLength="35.00" lengthAdjust="spacingAndGlyphs" stroke="#222" stroke-width="0.22">FLT3-Vc</text>
<text x="3.90" y="663.90" text-anchor="start" style="font-family:'Liberation Serif', serif;font-size:10.0px;font-style:italic;" fill="#222" textLength="35.00" lengthAdjust="spacingAndGlyphs" stroke="#222" stroke-width="0.22">FLT3-Vb</text>
<text x="3.90" y="685.30" text-anchor="start" style="font-family:'Liberation Serif', serif;font-size:10.0px;font-style:italic;" fill="#222" textLength="35.00" lengthAdjust="spacingAndGlyphs" stroke="#222" stroke-width="0.22">FLT3-Va</text>
<text x="3.90" y="706.30" text-anchor="start" style="font-family:'Liberation Serif', serif;font-size:10.0px;font-style:italic;" fill="#222" textLength="34.50" lengthAdjust="spacingAndGlyphs" stroke="#222" stroke-width="0.22">FLT3-FL</text>
<text x="3.90" y="727.00" text-anchor="start" style="font-family:'Liberation Serif', serif;font-size:10.0px;font-style:italic;" fill="#222" textLength="51.40" lengthAdjust="spacingAndGlyphs" stroke="#222" stroke-width="0.22">NOTCH2-Va</text>
<text x="3.90" y="748.00" text-anchor="start" style="font-family:'Liberation Serif', serif;font-size:10.0px;font-style:italic;" fill="#222" textLength="51.40" lengthAdjust="spacingAndGlyphs" stroke="#222" stroke-width="0.22">NOTCH2-FL</text>
<text transform="translate(306.10,605.00) scale(1.1,1)" text-anchor="start" style="font-family:'Liberation Sans', sans-serif;font-size:12.4px;font-weight:bold;" fill="#111">E</text>
<text x="323.30" y="603.50" text-anchor="start" style="font-family:'Liberation Serif', serif;font-size:10.8px;" fill="#222" textLength="192.40" lengthAdjust="spacingAndGlyphs" stroke="#222" stroke-width="0.22">Expression profiles at relapse (Rel), diagnosis</text>
<text x="326.20" y="615.40" text-anchor="start" style="font-family:'Liberation Serif', serif;font-size:10.8px;" fill="#222" textLength="181.10" lengthAdjust="spacingAndGlyphs" stroke="#222" stroke-width="0.22">(Diag) and during persistent (Pers) disease</text>
<rect x="346.10" y="627.40" width="16.90" height="21.30" fill="#66a75b"/>
<rect x="363.00" y="627.40" width="16.90" height="21.30" fill="#4e8a45"/>
<rect x="346.10" y="648.70" width="16.90" height="21.30" fill="#4e8a45"/>
<rect x="363.00" y="648.70" width="16.90" height="21.30" fill="#4e8a45"/>
<rect x="346.10" y="670.00" width="16.90" height="21.30" fill="#66a75b"/>
<rect x="363.00" y="670.00" width="16.90" height="21.30" fill="#3d6f37"/>
<rect x="346.10" y="691.30" width="16.90" height="21.30" fill="#2c5527"/>
<rect x="363.00" y="691.30" width="16.90" height="21.30" fill="#2c5527"/>
<rect x="346.10" y="712.60" width="16.90" height="21.30" fill="#2c5527"/>
<rect x="363.00" y="712.60" width="16.90" height="21.30" fill="#2c5527"/>
<rect x="346.10" y="733.90" width="16.90" height="21.30" fill="#2c5527"/>
<rect x="363.00" y="733.90" width="16.90" height="21.30" fill="#2c5527"/>
<line x1="363.00" y1="627.40" x2="363.00" y2="755.20" stroke="#111" stroke-width="1.45"/>
<line x1="346.10" y1="648.70" x2="379.90" y2="648.70" stroke="#111" stroke-width="1.6"/>
<line x1="346.10" y1="670.00" x2="379.90" y2="670.00" stroke="#111" stroke-width="1.6"/>
<line x1="346.10" y1="691.30" x2="379.90" y2="691.30" stroke="#111" stroke-width="1.6"/>
<line x1="346.10" y1="712.60" x2="379.90" y2="712.60" stroke="#111" stroke-width="1.6"/>
<line x1="346.10" y1="733.90" x2="379.90" y2="733.90" stroke="#111" stroke-width="1.6"/>
<rect x="346.10" y="627.40" width="33.80" height="127.80" fill="none" stroke="#111" stroke-width="1.5"/>
<text transform="translate(357.85,797.00) rotate(-90)" text-anchor="start" style="font-family:'Liberation Serif', serif;font-size:9.9px;" fill="#222" stroke="#222" stroke-width="0.22">Rel-14-1</text>
<text transform="translate(374.75,797.00) rotate(-90)" text-anchor="start" style="font-family:'Liberation Serif', serif;font-size:9.9px;" fill="#222" stroke="#222" stroke-width="0.22">Rel-14-2</text>
<rect x="384.10" y="627.40" width="16.90" height="21.30" fill="#3d6f37"/>
<rect x="401.00" y="627.40" width="16.90" height="21.30" fill="#2c5527"/>
<rect x="384.10" y="648.70" width="16.90" height="21.30" fill="#66a75b"/>
<rect x="401.00" y="648.70" width="16.90" height="21.30" fill="#3d6f37"/>
<rect x="384.10" y="670.00" width="16.90" height="21.30" fill="#4e8a45"/>
<rect x="401.00" y="670.00" width="16.90" height="21.30" fill="#3d6f37"/>
<rect x="384.10" y="691.30" width="16.90" height="21.30" fill="#2c5527"/>
<rect x="401.00" y="691.30" width="16.90" height="21.30" fill="#2c5527"/>
<rect x="384.10" y="712.60" width="16.90" height="21.30" fill="#2c5527"/>
<rect x="401.00" y="712.60" width="16.90" height="21.30" fill="#2c5527"/>
<rect x="384.10" y="733.90" width="16.90" height="21.30" fill="#3d6f37"/>
<rect x="401.00" y="733.90" width="16.90" height="21.30" fill="#3d6f37"/>
<line x1="401.00" y1="627.40" x2="401.00" y2="755.20" stroke="#111" stroke-width="1.45"/>
<line x1="384.10" y1="648.70" x2="417.90" y2="648.70" stroke="#111" stroke-width="1.6"/>
<line x1="384.10" y1="670.00" x2="417.90" y2="670.00" stroke="#111" stroke-width="1.6"/>
<line x1="384.10" y1="691.30" x2="417.90" y2="691.30" stroke="#111" stroke-width="1.6"/>
<line x1="384.10" y1="712.60" x2="417.90" y2="712.60" stroke="#111" stroke-width="1.6"/>
<line x1="384.10" y1="733.90" x2="417.90" y2="733.90" stroke="#111" stroke-width="1.6"/>
<rect x="384.10" y="627.40" width="33.80" height="127.80" fill="none" stroke="#111" stroke-width="1.5"/>
<text transform="translate(395.85,797.00) rotate(-90)" text-anchor="start" style="font-family:'Liberation Serif', serif;font-size:9.9px;" fill="#222" stroke="#222" stroke-width="0.22">Pers-15-1</text>
<text transform="translate(412.75,797.00) rotate(-90)" text-anchor="start" style="font-family:'Liberation Serif', serif;font-size:9.9px;" fill="#222" stroke="#222" stroke-width="0.22">Pers-15-2</text>
<rect x="421.50" y="627.40" width="16.90" height="21.30" fill="#3d6f37"/>
<rect x="438.40" y="627.40" width="16.90" height="21.30" fill="#66a75b"/>
<rect x="421.50" y="648.70" width="16.90" height="21.30" fill="#4e8a45"/>
<rect x="438.40" y="648.70" width="16.90" height="21.30" fill="#4e8a45"/>
<rect x="421.50" y="670.00" width="16.90" height="21.30" fill="#4e8a45"/>
<rect x="438.40" y="670.00" width="16.90" height="21.30" fill="#3d6f37"/>
<rect x="421.50" y="691.30" width="16.90" height="21.30" fill="#4e8a45"/>
<rect x="438.40" y="691.30" width="16.90" height="21.30" fill="#3d6f37"/>
<rect x="421.50" y="712.60" width="16.90" height="21.30" fill="#2c5527"/>
<rect x="438.40" y="712.60" width="16.90" height="21.30" fill="#2c5527"/>
<rect x="421.50" y="733.90" width="16.90" height="21.30" fill="#2c5527"/>
<rect x="438.40" y="733.90" width="16.90" height="21.30" fill="#3d6f37"/>
<line x1="438.40" y1="627.40" x2="438.40" y2="755.20" stroke="#111" stroke-width="1.45"/>
<line x1="421.50" y1="648.70" x2="455.30" y2="648.70" stroke="#111" stroke-width="1.6"/>
<line x1="421.50" y1="670.00" x2="455.30" y2="670.00" stroke="#111" stroke-width="1.6"/>
<line x1="421.50" y1="691.30" x2="455.30" y2="691.30" stroke="#111" stroke-width="1.6"/>
<line x1="421.50" y1="712.60" x2="455.30" y2="712.60" stroke="#111" stroke-width="1.6"/>
<line x1="421.50" y1="733.90" x2="455.30" y2="733.90" stroke="#111" stroke-width="1.6"/>
<rect x="421.50" y="627.40" width="33.80" height="127.80" fill="none" stroke="#111" stroke-width="1.5"/>
<text transform="translate(433.25,797.00) rotate(-90)" text-anchor="start" style="font-family:'Liberation Serif', serif;font-size:9.9px;" fill="#222" stroke="#222" stroke-width="0.22">Pers-16-1</text>
<text transform="translate(450.15,797.00) rotate(-90)" text-anchor="start" style="font-family:'Liberation Serif', serif;font-size:9.9px;" fill="#222" stroke="#222" stroke-width="0.22">Pers-16-2</text>
<rect x="459.50" y="627.40" width="16.90" height="21.30" fill="#4e8a45"/>
<rect x="476.40" y="627.40" width="16.90" height="21.30" fill="#66a75b"/>
<rect x="493.30" y="627.40" width="16.90" height="21.30" fill="#f6faf2"/>
<rect x="459.50" y="648.70" width="16.90" height="21.30" fill="#f6faf2"/>
<rect x="476.40" y="648.70" width="16.90" height="21.30" fill="#4e8a45"/>
<rect x="493.30" y="648.70" width="16.90" height="21.30" fill="#3d6f37"/>
<rect x="459.50" y="670.00" width="16.90" height="21.30" fill="#3d6f37"/>
<rect x="476.40" y="670.00" width="16.90" height="21.30" fill="#f6faf2"/>
<rect x="493.30" y="670.00" width="16.90" height="21.30" fill="#4e8a45"/>
<rect x="459.50" y="691.30" width="16.90" height="21.30" fill="#2c5527"/>
<rect x="476.40" y="691.30" width="16.90" height="21.30" fill="#2c5527"/>
<rect x="493.30" y="691.30" width="16.90" height="21.30" fill="#3d6f37"/>
<rect x="459.50" y="712.60" width="16.90" height="21.30" fill="#66a75b"/>
<rect x="476.40" y="712.60" width="16.90" height="21.30" fill="#4e8a45"/>
<rect x="493.30" y="712.60" width="16.90" height="21.30" fill="#4e8a45"/>
<rect x="459.50" y="733.90" width="16.90" height="21.30" fill="#2c5527"/>
<rect x="476.40" y="733.90" width="16.90" height="21.30" fill="#2c5527"/>
<rect x="493.30" y="733.90" width="16.90" height="21.30" fill="#2c5527"/>
<line x1="476.40" y1="627.40" x2="476.40" y2="755.20" stroke="#111" stroke-width="1.45"/>
<line x1="493.30" y1="627.40" x2="493.30" y2="755.20" stroke="#111" stroke-width="1.45"/>
<line x1="459.50" y1="648.70" x2="510.20" y2="648.70" stroke="#111" stroke-width="1.6"/>
<line x1="459.50" y1="670.00" x2="510.20" y2="670.00" stroke="#111" stroke-width="1.6"/>
<line x1="459.50" y1="691.30" x2="510.20" y2="691.30" stroke="#111" stroke-width="1.6"/>
<line x1="459.50" y1="712.60" x2="510.20" y2="712.60" stroke="#111" stroke-width="1.6"/>
<line x1="459.50" y1="733.90" x2="510.20" y2="733.90" stroke="#111" stroke-width="1.6"/>
<rect x="459.50" y="627.40" width="50.70" height="127.80" fill="none" stroke="#111" stroke-width="1.5"/>
<text transform="translate(471.25,797.00) rotate(-90)" text-anchor="start" style="font-family:'Liberation Serif', serif;font-size:9.9px;" fill="#222" stroke="#222" stroke-width="0.22">Diag-17</text>
<text transform="translate(488.15,797.00) rotate(-90)" text-anchor="start" style="font-family:'Liberation Serif', serif;font-size:9.9px;" fill="#222" stroke="#222" stroke-width="0.22">Pers-17-1</text>
<text transform="translate(505.05,797.00) rotate(-90)" text-anchor="start" style="font-family:'Liberation Serif', serif;font-size:9.9px;" fill="#222" stroke="#222" stroke-width="0.22">Pers-17-2</text>
<text x="288.40" y="643.70" text-anchor="start" style="font-family:'Liberation Serif', serif;font-size:10.0px;font-style:italic;" fill="#222" textLength="35.00" lengthAdjust="spacingAndGlyphs" stroke="#222" stroke-width="0.22">FLT3-Vc</text>
<text x="288.40" y="664.70" text-anchor="start" style="font-family:'Liberation Serif', serif;font-size:10.0px;font-style:italic;" fill="#222" textLength="35.00" lengthAdjust="spacingAndGlyphs" stroke="#222" stroke-width="0.22">FLT3-Vb</text>
<text x="288.40" y="686.30" text-anchor="start" style="font-family:'Liberation Serif', serif;font-size:10.0px;font-style:italic;" fill="#222" textLength="35.00" lengthAdjust="spacingAndGlyphs" stroke="#222" stroke-width="0.22">FLT3-Va</text>
<text x="288.40" y="706.80" text-anchor="start" style="font-family:'Liberation Serif', serif;font-size:10.0px;font-style:italic;" fill="#222" textLength="34.50" lengthAdjust="spacingAndGlyphs" stroke="#222" stroke-width="0.22">FLT3-FL</text>
<text x="288.40" y="727.00" text-anchor="start" style="font-family:'Liberation Serif', serif;font-size:10.0px;font-style:italic;" fill="#222" textLength="50.90" lengthAdjust="spacingAndGlyphs" stroke="#222" stroke-width="0.22">NOTCH2-Va</text>
<text x="288.40" y="746.70" text-anchor="start" style="font-family:'Liberation Serif', serif;font-size:10.0px;font-style:italic;" fill="#222" textLength="50.90" lengthAdjust="spacingAndGlyphs" stroke="#222" stroke-width="0.22">NOTCH2-FL</text>
</svg>
</body></html>
